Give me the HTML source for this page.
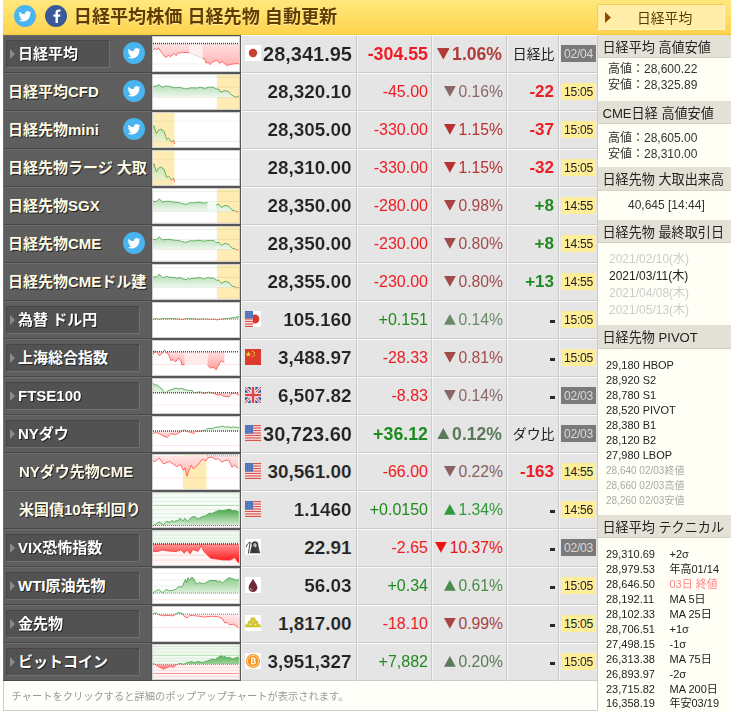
<!DOCTYPE html>
<html lang="ja"><head><meta charset="utf-8"><title>日経平均株価 日経先物 自動更新</title>
<style>
html,body{margin:0;padding:0;background:#fff;}
body{width:733px;height:712px;position:relative;overflow:hidden;font-family:"Liberation Sans","Noto Sans CJK JP",sans-serif;color:#222;}
.abs{position:absolute;display:block;}
#hd{position:absolute;left:3px;top:0;width:728px;height:35px;background:linear-gradient(#ffe87e,#ffdf68 45%,#ffd34e);border-bottom:1px solid #f6c840;height:34px;}
#ttl{position:absolute;left:73.8px;top:5px;height:24px;line-height:24px;font-size:18.1px;font-weight:700;color:#603c00;white-space:nowrap;text-shadow:0 1px 0 rgba(255,240,170,.9);}
#hbtn{position:absolute;left:597px;top:4px;width:126px;height:24px;border:1px solid;border-color:#f0cc5c #fff4c4 #fff4c4 #f0cc5c;background:#ffeda8;font-size:13.8px;line-height:28px;color:#5a3a00;white-space:nowrap;}
#hbtn .t{position:absolute;left:39px;top:0;}
.row{position:absolute;left:3px;width:595px;height:38px;}
.nm{position:absolute;left:0;top:0;width:147px;border-left:1px solid #6e6e6e;height:36px;background:#5e5e5e;border-top:1px solid #6e6e6e;border-bottom:1px solid #484848;}
.nm .btn{position:absolute;left:2px;top:4px;width:132px;height:26px;background:#525252;border:1px solid;border-color:#464646 #707070 #707070 #464646;}
.nm .arr{position:absolute;left:6px;top:13px;width:0;height:0;border-left:5px solid #8a8a8a;border-top:5px solid transparent;border-bottom:5px solid transparent;}
.nm .tx{position:absolute;top:0;height:36px;line-height:36px;font-size:15px;font-weight:700;color:#fffbe6;white-space:nowrap;letter-spacing:0;}
.nm .tx{text-shadow:1px 1px 0 #222;}
.ch{position:absolute;left:148px;top:0;width:90px;height:38px;background:#565656;}
.ch svg{position:absolute;left:1px;top:1px;}
.c{position:absolute;top:0;height:36px;background:#e5e5e5;border:1px solid;border-color:#fafafa #cbcbcb #cbcbcb #f4f4f4;line-height:36px;text-align:right;white-space:nowrap;}
.c1{left:238px;width:114px;font-size:20px;font-weight:700;color:#222;}
.c1 span{position:absolute;right:4px;top:-0.5px;-webkit-text-stroke:0.15px #e5e5e5;}
.c2{left:354px;width:73px;font-size:16px;}
.c2 span{position:absolute;right:3px;top:0;}
.c3{left:429px;width:73px;font-size:16px;}
.c3 span{position:absolute;right:3px;top:0;}
.c4{left:504px;width:50px;font-size:17px;font-weight:700;}
.c4 span{position:absolute;right:4px;top:0;}
.c5{left:556px;width:37px;}
.c5 b{position:absolute;left:1px;top:9px;width:35px;height:17px;line-height:18.2px;font-size:12.1px;letter-spacing:-0.3px;font-weight:400;text-align:center;}
.c5 b.t{background:#ffee99;color:#222;}
.c5 b.d{background:#7a7a7a;color:#d8d8d8;}
.dash{position:absolute;left:41.8px;top:18px;width:5.5px;height:3px;background:#2a2a2a;font-size:0;overflow:hidden;}
.red{color:#ee1c25;}.grn{color:#1f8a1f;}
.b{font-weight:700;}
.tri{display:inline-block;}
#side{position:absolute;left:598px;top:35px;width:133px;height:677px;background:#fffff6;}
.sh{position:absolute;left:0;width:133px;height:22.4px;background:#e3e1d6;border-bottom:1px solid #d4d2c6;font-size:13.1px;line-height:26.6px;color:#222;white-space:nowrap;}
.sh span{position:absolute;left:4.5px;top:0;}
.sl{position:absolute;white-space:nowrap;color:#333;}
#ft{position:absolute;left:3px;top:681px;width:593px;height:29px;background:#fffffa;border:1px solid #ccc;border-top:none;font-size:10.25px;line-height:29px;color:#999;white-space:nowrap;}
#ft span{position:absolute;left:7.5px;top:1px;}
</style></head><body>

<div id="hd"></div>
<svg class="abs" style="left:14px;top:5px" width="22" height="22" viewBox="0 0 22 22"><circle cx="11" cy="11" r="11" fill="#48b4f0"/><path transform="translate(3.6,3.7) scale(0.61)" fill="#fff" d="M22.46 6c-.77.35-1.6.58-2.46.69a4.3 4.3 0 0 0 1.88-2.37 8.6 8.6 0 0 1-2.72 1.04 4.28 4.28 0 0 0-7.3 3.9A12.14 12.14 0 0 1 3.05 4.8a4.28 4.28 0 0 0 1.32 5.71 4.26 4.26 0 0 1-1.94-.54v.05a4.28 4.28 0 0 0 3.43 4.2 4.3 4.3 0 0 1-1.93.07 4.28 4.28 0 0 0 4 2.97A8.59 8.59 0 0 1 2 19.03a12.1 12.1 0 0 0 6.56 1.92c7.88 0 12.2-6.53 12.2-12.2l-.01-.55A8.7 8.7 0 0 0 22.46 6z"/></svg>
<svg class="abs" style="left:45px;top:5px" width="22" height="22" viewBox="0 0 22 22"><circle cx="11" cy="11" r="11" fill="#3b5998"/><path transform="translate(0.9,0)" fill="#fff" d="M12.1 18v-6.2h2.1l.3-2.4h-2.4V7.9c0-.7.2-1.2 1.2-1.2h1.3V4.5c-.2 0-1-.1-1.9-.1-1.9 0-3.1 1.100-3.100 3.200v1.800H7.500v2.400h2.100V18z"/></svg>
<div id="ttl">日経平均株価 日経先物 自動更新</div>
<div id="hbtn"><svg class="abs" style="left:7px;top:7px" width="6" height="11"><polygon points="0,0 6,5.5 0,11" fill="#8a4e00"/></svg><span class="t">日経平均</span></div>
<div class="row" style="top:35px">
<div class="nm"><div class="btn" style="width:102px"></div><div class="arr"></div><div class="tx" style="left:14px;color:#fff">日経平均</div></div>
<div class="ch"><svg width="88" height="36" viewBox="0 0 88 36"><rect width="88" height="36" fill="#fff"/><rect x="1" y="27.5" width="86" height="1" fill="#ffecec" style="mix-blend-mode:multiply"/><defs><linearGradient id="c0g" gradientUnits="userSpaceOnUse" x1="0" y1="11.9" x2="0" y2="7.5"><stop offset="0" stop-color="#9fd49f"/><stop offset="1" stop-color="#e6f4e6"/></linearGradient><linearGradient id="c0r" gradientUnits="userSpaceOnUse" x1="0" y1="7.5" x2="0" y2="29.5"><stop offset="0" stop-color="#ffe2e2"/><stop offset="1" stop-color="#ffb4b4"/></linearGradient><clipPath id="c0a"><rect x="0" y="0" width="88" height="7.5"/></clipPath><clipPath id="c0b"><rect x="0" y="7.5" width="88" height="28.5"/></clipPath></defs><polygon points="37.3,7.5 50.7,7.5 50.7,22.6 37.3,16.7" fill="#fff0f0"/><polyline points="37.3,16.7 50.7,22.6" fill="none" stroke="#ddd" stroke-width="1"/><g clip-path="url(#c0a)"><polygon points="1.0,7.5 1.0,14.4 2.8,12.2 4.6,14.0 6.3,11.9 9.0,15.7 13.4,21.3 16.6,19.4 18.4,20.7 22.2,17.6 24.1,19.7 26.0,16.3 27.2,17.6 29.7,16.3 37.3,16.7 37.3,7.5" fill="url(#c0g)" style="mix-blend-mode:multiply"/></g><g clip-path="url(#c0b)"><polygon points="1.0,7.5 1.0,14.4 2.8,12.2 4.6,14.0 6.3,11.9 9.0,15.7 13.4,21.3 16.6,19.4 18.4,20.7 22.2,17.6 24.1,19.7 26.0,16.3 27.2,17.6 29.7,16.3 37.3,16.7 37.3,7.5" fill="url(#c0r)" style="mix-blend-mode:multiply"/></g><g clip-path="url(#c0a)"><polygon points="50.7,7.5 50.7,22.6 53.0,23.2 54.2,27.2 56.0,26.0 58.0,28.5 60.5,26.0 64.9,24.2 67.4,27.2 69.9,25.5 74.9,29.5 79.3,28.2 84.3,27.6 87.0,27.8 87.0,7.5" fill="url(#c0g)" style="mix-blend-mode:multiply"/></g><g clip-path="url(#c0b)"><polygon points="50.7,7.5 50.7,22.6 53.0,23.2 54.2,27.2 56.0,26.0 58.0,28.5 60.5,26.0 64.9,24.2 67.4,27.2 69.9,25.5 74.9,29.5 79.3,28.2 84.3,27.6 87.0,27.8 87.0,7.5" fill="url(#c0r)" style="mix-blend-mode:multiply"/></g><line x1="1" y1="7.5" x2="87" y2="7.5" stroke="#2233ff" stroke-width="1.6" stroke-dasharray="1 1"/><g clip-path="url(#c0a)"><polyline points="1.0,14.4 2.8,12.2 4.6,14.0 6.3,11.9 9.0,15.7 13.4,21.3 16.6,19.4 18.4,20.7 22.2,17.6 24.1,19.7 26.0,16.3 27.2,17.6 29.7,16.3 37.3,16.7" fill="none" stroke="#4aa04a" stroke-width="0.8" stroke-linejoin="round"/></g><g clip-path="url(#c0b)"><polyline points="1.0,14.4 2.8,12.2 4.6,14.0 6.3,11.9 9.0,15.7 13.4,21.3 16.6,19.4 18.4,20.7 22.2,17.6 24.1,19.7 26.0,16.3 27.2,17.6 29.7,16.3 37.3,16.7" fill="none" stroke="#ff4a4a" stroke-width="0.8" stroke-linejoin="round"/></g><g clip-path="url(#c0a)"><polyline points="50.7,22.6 53.0,23.2 54.2,27.2 56.0,26.0 58.0,28.5 60.5,26.0 64.9,24.2 67.4,27.2 69.9,25.5 74.9,29.5 79.3,28.2 84.3,27.6 87.0,27.8" fill="none" stroke="#4aa04a" stroke-width="0.8" stroke-linejoin="round"/></g><g clip-path="url(#c0b)"><polyline points="50.7,22.6 53.0,23.2 54.2,27.2 56.0,26.0 58.0,28.5 60.5,26.0 64.9,24.2 67.4,27.2 69.9,25.5 74.9,29.5 79.3,28.2 84.3,27.6 87.0,27.8" fill="none" stroke="#ff4a4a" stroke-width="0.8" stroke-linejoin="round"/></g><rect x="0.5" y="0.5" width="87" height="35" fill="none" stroke="#d0d0d0" stroke-width="1"/></svg></div>
<div class="c c1"><span style="font-size:20px;right:4px">28,341.95</span></div>
<div class="c c2"><span class="red b" style="font-size:17.8px">-304.55</span></div>
<div class="c c3"><span class="b" style="color:#b03a3a;font-size:17.6px;right:4px"><svg class="tri" width="12.7" height="11.7" viewBox="0 0 12.7 11.684" style="margin-right:2.9px;vertical-align:0.6px"><polygon points="0,0 12.7,0 6.35,11.684" fill="#b03a3a"/></svg>1.06%</span></div>
<div class="c c4"><span style="font-size:13.9px;font-weight:400;color:#222;right:3.5px">日経比</span></div>
<div class="c c5"><b class="d">02/04</b></div>
</div>
<svg class="abs" style="left:123px;top:42px" width="22" height="22" viewBox="0 0 22 22"><circle cx="11" cy="11" r="11" fill="#48b4f0"/><path transform="translate(3.6,3.7) scale(0.61)" fill="#fff" d="M22.46 6c-.77.35-1.6.58-2.46.69a4.3 4.3 0 0 0 1.88-2.37 8.6 8.6 0 0 1-2.72 1.04 4.28 4.28 0 0 0-7.3 3.9A12.14 12.14 0 0 1 3.05 4.8a4.28 4.28 0 0 0 1.32 5.71 4.26 4.26 0 0 1-1.94-.54v.05a4.28 4.28 0 0 0 3.43 4.2 4.3 4.3 0 0 1-1.93.07 4.28 4.28 0 0 0 4 2.97A8.59 8.59 0 0 1 2 19.03a12.1 12.1 0 0 0 6.56 1.92c7.88 0 12.2-6.53 12.2-12.2l-.01-.55A8.7 8.7 0 0 0 22.46 6z"/></svg>
<svg class="abs" style="left:245px;top:45px" width="16" height="16" viewBox="0 0 16 16"><rect width="16" height="16" fill="#fff"/><circle cx="8" cy="8" r="4.2" fill="#c8402f"/></svg>
<div class="row" style="top:73px">
<div class="nm"><div class="tx" style="left:4px;color:#fffbe6">日経平均CFD</div></div>
<div class="ch"><svg width="88" height="36" viewBox="0 0 88 36"><rect width="88" height="36" fill="#fff"/><rect x="64.9" y="0" width="23.099999999999994" height="36" fill="#ffecb5"/><rect x="1" y="2.6" width="86" height="1" fill="#e6f4e6" style="mix-blend-mode:multiply"/><rect x="1" y="12.7" width="86" height="1" fill="#eaf3e6" style="mix-blend-mode:multiply"/><rect x="1" y="22.8" width="86" height="1" fill="#e6f0e0" style="mix-blend-mode:multiply"/><defs><linearGradient id="c1g" gradientUnits="userSpaceOnUse" x1="0" y1="10.3" x2="0" y2="23.3"><stop offset="0" stop-color="#b4dcb4"/><stop offset="1" stop-color="#eef8ee"/></linearGradient><linearGradient id="c1r" gradientUnits="userSpaceOnUse" x1="0" y1="23.3" x2="0" y2="23.2"><stop offset="0" stop-color="#ffe4e4"/><stop offset="1" stop-color="#ffb0b0"/></linearGradient><clipPath id="c1a"><rect x="0" y="0" width="88" height="23.3"/></clipPath><clipPath id="c1b"><rect x="0" y="23.3" width="88" height="12.7"/></clipPath></defs><g clip-path="url(#c1a)"><polygon points="1.0,23.3 1.0,12.5 5.3,11.9 6.5,10.3 10.3,13.2 14.0,11.9 17.8,12.5 22.8,13.8 27.9,13.5 34.1,15.0 39.0,13.8 45.4,14.0 48.0,13.2 53.0,14.4 56.7,13.2 61.7,13.4 64.2,15.0 66.7,15.0 68.6,18.2 73.0,16.6 76.8,17.8 79.3,21.0 84.3,23.2 87.0,22.0 87.0,23.3" fill="url(#c1g)" style="mix-blend-mode:multiply"/></g><g clip-path="url(#c1b)"><polygon points="1.0,23.3 1.0,12.5 5.3,11.9 6.5,10.3 10.3,13.2 14.0,11.9 17.8,12.5 22.8,13.8 27.9,13.5 34.1,15.0 39.0,13.8 45.4,14.0 48.0,13.2 53.0,14.4 56.7,13.2 61.7,13.4 64.2,15.0 66.7,15.0 68.6,18.2 73.0,16.6 76.8,17.8 79.3,21.0 84.3,23.2 87.0,22.0 87.0,23.3" fill="url(#c1r)" style="mix-blend-mode:multiply"/></g><g clip-path="url(#c1a)"><polyline points="1.0,12.5 5.3,11.9 6.5,10.3 10.3,13.2 14.0,11.9 17.8,12.5 22.8,13.8 27.9,13.5 34.1,15.0 39.0,13.8 45.4,14.0 48.0,13.2 53.0,14.4 56.7,13.2 61.7,13.4 64.2,15.0 66.7,15.0 68.6,18.2 73.0,16.6 76.8,17.8 79.3,21.0 84.3,23.2 87.0,22.0" fill="none" stroke="#4aa04a" stroke-width="0.8" stroke-linejoin="round"/></g><g clip-path="url(#c1b)"><polyline points="1.0,12.5 5.3,11.9 6.5,10.3 10.3,13.2 14.0,11.9 17.8,12.5 22.8,13.8 27.9,13.5 34.1,15.0 39.0,13.8 45.4,14.0 48.0,13.2 53.0,14.4 56.7,13.2 61.7,13.4 64.2,15.0 66.7,15.0 68.6,18.2 73.0,16.6 76.8,17.8 79.3,21.0 84.3,23.2 87.0,22.0" fill="none" stroke="#ff4a4a" stroke-width="0.8" stroke-linejoin="round"/></g><rect x="0.5" y="0.5" width="87" height="35" fill="none" stroke="#d0d0d0" stroke-width="1"/></svg></div>
<div class="c c1"><span style="font-size:18.9px;right:4.5px">28,320.10</span></div>
<div class="c c2"><span class="red">-45.00</span></div>
<div class="c c3"><span class="" style="color:#8a6666;font-size:15.7px"><svg class="tri" width="11.8" height="10.9" viewBox="0 0 11.8 10.856000000000002" style="margin-right:2.9px;vertical-align:0.1px"><polygon points="0,0 11.8,0 5.9,10.856000000000002" fill="#8a6666"/></svg>0.16%</span></div>
<div class="c c4"><span class="red">-22</span></div>
<div class="c c5"><b class="t">15:05</b></div>
</div>
<svg class="abs" style="left:123px;top:80px" width="22" height="22" viewBox="0 0 22 22"><circle cx="11" cy="11" r="11" fill="#48b4f0"/><path transform="translate(3.6,3.7) scale(0.61)" fill="#fff" d="M22.46 6c-.77.35-1.6.58-2.46.69a4.3 4.3 0 0 0 1.88-2.37 8.6 8.6 0 0 1-2.72 1.04 4.28 4.28 0 0 0-7.3 3.9A12.14 12.14 0 0 1 3.05 4.8a4.28 4.28 0 0 0 1.32 5.71 4.26 4.26 0 0 1-1.94-.54v.05a4.28 4.28 0 0 0 3.43 4.2 4.3 4.3 0 0 1-1.93.07 4.28 4.28 0 0 0 4 2.97A8.59 8.59 0 0 1 2 19.03a12.1 12.1 0 0 0 6.56 1.92c7.88 0 12.2-6.53 12.2-12.2l-.01-.55A8.7 8.7 0 0 0 22.46 6z"/></svg>
<div class="row" style="top:111px">
<div class="nm"><div class="tx" style="left:4px;color:#fffbe6">日経先物mini</div></div>
<div class="ch"><svg width="88" height="36" viewBox="0 0 88 36"><rect width="88" height="36" fill="#fff"/><rect x="0" y="0" width="22.5" height="36" fill="#ffecb5"/><rect x="1" y="8.7" width="86" height="1" fill="#edf5ed" style="mix-blend-mode:multiply"/><rect x="1" y="29.0" width="86" height="1" fill="#e8f0e4" style="mix-blend-mode:multiply"/><defs><linearGradient id="c2g" gradientUnits="userSpaceOnUse" x1="0" y1="14.0" x2="0" y2="29.5"><stop offset="0" stop-color="#bfe0b0"/><stop offset="1" stop-color="#ecf2c8"/></linearGradient><linearGradient id="c2r" gradientUnits="userSpaceOnUse" x1="0" y1="29.5" x2="0" y2="32.0"><stop offset="0" stop-color="#ffe4e4"/><stop offset="1" stop-color="#ffb0b0"/></linearGradient><clipPath id="c2a"><rect x="0" y="0" width="88" height="29.5"/></clipPath><clipPath id="c2b"><rect x="0" y="29.5" width="88" height="6.5"/></clipPath></defs><g clip-path="url(#c2a)"><polygon points="1.0,29.5 1.0,14.4 2.1,14.0 4.3,21.7 6.5,18.2 8.8,17.0 12.2,19.4 14.7,27.6 16.6,26.0 19.3,30.1 21.6,28.2 22.8,32.0 22.8,29.5" fill="url(#c2g)" style="mix-blend-mode:multiply"/></g><g clip-path="url(#c2b)"><polygon points="1.0,29.5 1.0,14.4 2.1,14.0 4.3,21.7 6.5,18.2 8.8,17.0 12.2,19.4 14.7,27.6 16.6,26.0 19.3,30.1 21.6,28.2 22.8,32.0 22.8,29.5" fill="url(#c2r)" style="mix-blend-mode:multiply"/></g><g clip-path="url(#c2a)"><polyline points="1.0,14.4 2.1,14.0 4.3,21.7 6.5,18.2 8.8,17.0 12.2,19.4 14.7,27.6 16.6,26.0 19.3,30.1 21.6,28.2 22.8,32.0" fill="none" stroke="#4aa04a" stroke-width="0.8" stroke-linejoin="round"/></g><g clip-path="url(#c2b)"><polyline points="1.0,14.4 2.1,14.0 4.3,21.7 6.5,18.2 8.8,17.0 12.2,19.4 14.7,27.6 16.6,26.0 19.3,30.1 21.6,28.2 22.8,32.0" fill="none" stroke="#ff4a4a" stroke-width="0.8" stroke-linejoin="round"/></g><rect x="0.5" y="0.5" width="87" height="35" fill="none" stroke="#d0d0d0" stroke-width="1"/></svg></div>
<div class="c c1"><span style="font-size:18.9px;right:4.5px">28,305.00</span></div>
<div class="c c2"><span class="red">-330.00</span></div>
<div class="c c3"><span class="" style="color:#b83030;font-size:15.7px"><svg class="tri" width="11.8" height="10.9" viewBox="0 0 11.8 10.856000000000002" style="margin-right:2.9px;vertical-align:0.1px"><polygon points="0,0 11.8,0 5.9,10.856000000000002" fill="#b83030"/></svg>1.15%</span></div>
<div class="c c4"><span class="red">-37</span></div>
<div class="c c5"><b class="t">15:05</b></div>
</div>
<svg class="abs" style="left:123px;top:118px" width="22" height="22" viewBox="0 0 22 22"><circle cx="11" cy="11" r="11" fill="#48b4f0"/><path transform="translate(3.6,3.7) scale(0.61)" fill="#fff" d="M22.46 6c-.77.35-1.6.58-2.46.69a4.3 4.3 0 0 0 1.88-2.37 8.6 8.6 0 0 1-2.72 1.04 4.28 4.28 0 0 0-7.3 3.9A12.14 12.14 0 0 1 3.05 4.8a4.28 4.28 0 0 0 1.32 5.71 4.26 4.26 0 0 1-1.94-.54v.05a4.28 4.28 0 0 0 3.43 4.2 4.3 4.3 0 0 1-1.93.07 4.28 4.28 0 0 0 4 2.97A8.59 8.59 0 0 1 2 19.03a12.1 12.1 0 0 0 6.56 1.92c7.88 0 12.2-6.53 12.2-12.2l-.01-.55A8.7 8.7 0 0 0 22.46 6z"/></svg>
<div class="row" style="top:149px">
<div class="nm"><div class="tx" style="left:4px;color:#fffbe6">日経先物ラージ 大取</div></div>
<div class="ch"><svg width="88" height="36" viewBox="0 0 88 36"><rect width="88" height="36" fill="#fff"/><rect x="0" y="0" width="22.5" height="36" fill="#ffecb5"/><rect x="1" y="8.7" width="86" height="1" fill="#edf5ed" style="mix-blend-mode:multiply"/><rect x="1" y="29.0" width="86" height="1" fill="#e8f0e4" style="mix-blend-mode:multiply"/><defs><linearGradient id="c3g" gradientUnits="userSpaceOnUse" x1="0" y1="14.0" x2="0" y2="29.5"><stop offset="0" stop-color="#bfe0b0"/><stop offset="1" stop-color="#ecf2c8"/></linearGradient><linearGradient id="c3r" gradientUnits="userSpaceOnUse" x1="0" y1="29.5" x2="0" y2="32.0"><stop offset="0" stop-color="#ffe4e4"/><stop offset="1" stop-color="#ffb0b0"/></linearGradient><clipPath id="c3a"><rect x="0" y="0" width="88" height="29.5"/></clipPath><clipPath id="c3b"><rect x="0" y="29.5" width="88" height="6.5"/></clipPath></defs><g clip-path="url(#c3a)"><polygon points="1.0,29.5 1.0,14.4 2.1,14.0 4.3,21.7 6.5,18.2 8.8,17.0 12.2,19.4 14.7,27.6 16.6,26.0 19.3,30.1 21.6,28.2 22.8,32.0 22.8,29.5" fill="url(#c3g)" style="mix-blend-mode:multiply"/></g><g clip-path="url(#c3b)"><polygon points="1.0,29.5 1.0,14.4 2.1,14.0 4.3,21.7 6.5,18.2 8.8,17.0 12.2,19.4 14.7,27.6 16.6,26.0 19.3,30.1 21.6,28.2 22.8,32.0 22.8,29.5" fill="url(#c3r)" style="mix-blend-mode:multiply"/></g><g clip-path="url(#c3a)"><polyline points="1.0,14.4 2.1,14.0 4.3,21.7 6.5,18.2 8.8,17.0 12.2,19.4 14.7,27.6 16.6,26.0 19.3,30.1 21.6,28.2 22.8,32.0" fill="none" stroke="#4aa04a" stroke-width="0.8" stroke-linejoin="round"/></g><g clip-path="url(#c3b)"><polyline points="1.0,14.4 2.1,14.0 4.3,21.7 6.5,18.2 8.8,17.0 12.2,19.4 14.7,27.6 16.6,26.0 19.3,30.1 21.6,28.2 22.8,32.0" fill="none" stroke="#ff4a4a" stroke-width="0.8" stroke-linejoin="round"/></g><rect x="0.5" y="0.5" width="87" height="35" fill="none" stroke="#d0d0d0" stroke-width="1"/></svg></div>
<div class="c c1"><span style="font-size:18.9px;right:4.5px">28,310.00</span></div>
<div class="c c2"><span class="red">-330.00</span></div>
<div class="c c3"><span class="" style="color:#b83030;font-size:15.7px"><svg class="tri" width="11.8" height="10.9" viewBox="0 0 11.8 10.856000000000002" style="margin-right:2.9px;vertical-align:0.1px"><polygon points="0,0 11.8,0 5.9,10.856000000000002" fill="#b83030"/></svg>1.15%</span></div>
<div class="c c4"><span class="red">-32</span></div>
<div class="c c5"><b class="t">15:05</b></div>
</div>
<div class="row" style="top:187px">
<div class="nm"><div class="tx" style="left:4px;color:#fffbe6">日経先物SGX</div></div>
<div class="ch"><svg width="88" height="36" viewBox="0 0 88 36"><rect width="88" height="36" fill="#fff"/><rect x="64.9" y="0" width="23.099999999999994" height="36" fill="#ffecb5"/><rect x="1" y="2.9" width="86" height="1" fill="#e6f4e6" style="mix-blend-mode:multiply"/><rect x="1" y="12.9" width="86" height="1" fill="#eaf3e6" style="mix-blend-mode:multiply"/><rect x="1" y="23.1" width="86" height="1" fill="#e6f0e0" style="mix-blend-mode:multiply"/><rect x="1" y="34.0" width="86" height="1" fill="#fff0f0" style="mix-blend-mode:multiply"/><defs><linearGradient id="c4g" gradientUnits="userSpaceOnUse" x1="0" y1="10.9" x2="0" y2="23.6"><stop offset="0" stop-color="#b4dcb4"/><stop offset="1" stop-color="#eef8ee"/></linearGradient><linearGradient id="c4r" gradientUnits="userSpaceOnUse" x1="0" y1="23.6" x2="0" y2="23.9"><stop offset="0" stop-color="#ffe4e4"/><stop offset="1" stop-color="#ffb0b0"/></linearGradient><clipPath id="c4a"><rect x="0" y="0" width="88" height="23.6"/></clipPath><clipPath id="c4b"><rect x="0" y="23.6" width="88" height="12.399999999999999"/></clipPath></defs><polygon points="55.5,14.4 63.6,14.4 63.6,23.6 55.5,23.6" fill="#f0faf0"/><g clip-path="url(#c4a)"><polygon points="1.0,23.6 1.0,13.4 4.5,13.4 7.2,10.9 10.3,13.8 17.0,13.2 22.0,14.2 27.0,14.5 29.5,15.5 34.1,16.3 38.0,14.7 42.0,14.9 45.0,14.4 48.0,14.3 52.0,15.2 55.5,14.4 55.5,23.6" fill="url(#c4g)" style="mix-blend-mode:multiply"/></g><g clip-path="url(#c4b)"><polygon points="1.0,23.6 1.0,13.4 4.5,13.4 7.2,10.9 10.3,13.8 17.0,13.2 22.0,14.2 27.0,14.5 29.5,15.5 34.1,16.3 38.0,14.7 42.0,14.9 45.0,14.4 48.0,14.3 52.0,15.2 55.5,14.4 55.5,23.6" fill="url(#c4r)" style="mix-blend-mode:multiply"/></g><g clip-path="url(#c4a)"><polygon points="64.2,23.6 64.2,16.7 67.0,16.4 69.5,19.4 73.0,17.3 77.0,18.5 80.0,22.2 83.0,22.6 84.3,23.9 86.5,23.6 86.5,23.6" fill="url(#c4g)" style="mix-blend-mode:multiply"/></g><g clip-path="url(#c4b)"><polygon points="64.2,23.6 64.2,16.7 67.0,16.4 69.5,19.4 73.0,17.3 77.0,18.5 80.0,22.2 83.0,22.6 84.3,23.9 86.5,23.6 86.5,23.6" fill="url(#c4r)" style="mix-blend-mode:multiply"/></g><g clip-path="url(#c4a)"><polyline points="1.0,13.4 4.5,13.4 7.2,10.9 10.3,13.8 17.0,13.2 22.0,14.2 27.0,14.5 29.5,15.5 34.1,16.3 38.0,14.7 42.0,14.9 45.0,14.4 48.0,14.3 52.0,15.2 55.5,14.4" fill="none" stroke="#4aa04a" stroke-width="0.8" stroke-linejoin="round"/></g><g clip-path="url(#c4b)"><polyline points="1.0,13.4 4.5,13.4 7.2,10.9 10.3,13.8 17.0,13.2 22.0,14.2 27.0,14.5 29.5,15.5 34.1,16.3 38.0,14.7 42.0,14.9 45.0,14.4 48.0,14.3 52.0,15.2 55.5,14.4" fill="none" stroke="#ff4a4a" stroke-width="0.8" stroke-linejoin="round"/></g><g clip-path="url(#c4a)"><polyline points="64.2,16.7 67.0,16.4 69.5,19.4 73.0,17.3 77.0,18.5 80.0,22.2 83.0,22.6 84.3,23.9 86.5,23.6" fill="none" stroke="#4aa04a" stroke-width="0.8" stroke-linejoin="round"/></g><g clip-path="url(#c4b)"><polyline points="64.2,16.7 67.0,16.4 69.5,19.4 73.0,17.3 77.0,18.5 80.0,22.2 83.0,22.6 84.3,23.9 86.5,23.6" fill="none" stroke="#ff4a4a" stroke-width="0.8" stroke-linejoin="round"/></g><rect x="0.5" y="0.5" width="87" height="35" fill="none" stroke="#d0d0d0" stroke-width="1"/></svg></div>
<div class="c c1"><span style="font-size:18.9px;right:4.5px">28,350.00</span></div>
<div class="c c2"><span class="red">-280.00</span></div>
<div class="c c3"><span class="" style="color:#a84444;font-size:15.7px"><svg class="tri" width="11.8" height="10.9" viewBox="0 0 11.8 10.856000000000002" style="margin-right:2.9px;vertical-align:0.1px"><polygon points="0,0 11.8,0 5.9,10.856000000000002" fill="#a84444"/></svg>0.98%</span></div>
<div class="c c4"><span class="grn">+8</span></div>
<div class="c c5"><b class="t">14:55</b></div>
</div>
<div class="row" style="top:225px">
<div class="nm"><div class="tx" style="left:4px;color:#fffbe6">日経先物CME</div></div>
<div class="ch"><svg width="88" height="36" viewBox="0 0 88 36"><rect width="88" height="36" fill="#fff"/><rect x="64.9" y="0" width="23.099999999999994" height="36" fill="#ffecb5"/><rect x="1" y="2.9" width="86" height="1" fill="#e6f4e6" style="mix-blend-mode:multiply"/><rect x="1" y="12.9" width="86" height="1" fill="#eaf3e6" style="mix-blend-mode:multiply"/><rect x="1" y="23.1" width="86" height="1" fill="#e6f0e0" style="mix-blend-mode:multiply"/><rect x="1" y="34.0" width="86" height="1" fill="#fff0f0" style="mix-blend-mode:multiply"/><defs><linearGradient id="c5g" gradientUnits="userSpaceOnUse" x1="0" y1="10.9" x2="0" y2="23.6"><stop offset="0" stop-color="#b4dcb4"/><stop offset="1" stop-color="#eef8ee"/></linearGradient><linearGradient id="c5r" gradientUnits="userSpaceOnUse" x1="0" y1="23.6" x2="0" y2="23.9"><stop offset="0" stop-color="#ffe4e4"/><stop offset="1" stop-color="#ffb0b0"/></linearGradient><clipPath id="c5a"><rect x="0" y="0" width="88" height="23.6"/></clipPath><clipPath id="c5b"><rect x="0" y="23.6" width="88" height="12.399999999999999"/></clipPath></defs><g clip-path="url(#c5a)"><polygon points="1.0,23.6 1.0,13.4 4.5,13.4 7.2,10.9 10.3,13.8 17.0,13.2 22.0,14.2 27.0,14.5 29.5,15.5 34.1,16.3 38.0,14.7 42.0,14.9 45.0,14.4 48.0,14.3 52.0,15.2 55.5,14.4 62.0,14.4 64.2,16.7 67.0,16.4 69.5,19.4 73.0,17.3 77.0,18.5 80.0,22.2 83.0,22.6 84.3,23.9 86.5,23.6 86.5,23.6" fill="url(#c5g)" style="mix-blend-mode:multiply"/></g><g clip-path="url(#c5b)"><polygon points="1.0,23.6 1.0,13.4 4.5,13.4 7.2,10.9 10.3,13.8 17.0,13.2 22.0,14.2 27.0,14.5 29.5,15.5 34.1,16.3 38.0,14.7 42.0,14.9 45.0,14.4 48.0,14.3 52.0,15.2 55.5,14.4 62.0,14.4 64.2,16.7 67.0,16.4 69.5,19.4 73.0,17.3 77.0,18.5 80.0,22.2 83.0,22.6 84.3,23.9 86.5,23.6 86.5,23.6" fill="url(#c5r)" style="mix-blend-mode:multiply"/></g><g clip-path="url(#c5a)"><polyline points="1.0,13.4 4.5,13.4 7.2,10.9 10.3,13.8 17.0,13.2 22.0,14.2 27.0,14.5 29.5,15.5 34.1,16.3 38.0,14.7 42.0,14.9 45.0,14.4 48.0,14.3 52.0,15.2 55.5,14.4 62.0,14.4 64.2,16.7 67.0,16.4 69.5,19.4 73.0,17.3 77.0,18.5 80.0,22.2 83.0,22.6 84.3,23.9 86.5,23.6" fill="none" stroke="#4aa04a" stroke-width="0.8" stroke-linejoin="round"/></g><g clip-path="url(#c5b)"><polyline points="1.0,13.4 4.5,13.4 7.2,10.9 10.3,13.8 17.0,13.2 22.0,14.2 27.0,14.5 29.5,15.5 34.1,16.3 38.0,14.7 42.0,14.9 45.0,14.4 48.0,14.3 52.0,15.2 55.5,14.4 62.0,14.4 64.2,16.7 67.0,16.4 69.5,19.4 73.0,17.3 77.0,18.5 80.0,22.2 83.0,22.6 84.3,23.9 86.5,23.6" fill="none" stroke="#ff4a4a" stroke-width="0.8" stroke-linejoin="round"/></g><rect x="0.5" y="0.5" width="87" height="35" fill="none" stroke="#d0d0d0" stroke-width="1"/></svg></div>
<div class="c c1"><span style="font-size:18.9px;right:4.5px">28,350.00</span></div>
<div class="c c2"><span class="red">-230.00</span></div>
<div class="c c3"><span class="" style="color:#a34a4a;font-size:15.7px"><svg class="tri" width="11.8" height="10.9" viewBox="0 0 11.8 10.856000000000002" style="margin-right:2.9px;vertical-align:0.1px"><polygon points="0,0 11.8,0 5.9,10.856000000000002" fill="#a34a4a"/></svg>0.80%</span></div>
<div class="c c4"><span class="grn">+8</span></div>
<div class="c c5"><b class="t">14:55</b></div>
</div>
<svg class="abs" style="left:123px;top:232px" width="22" height="22" viewBox="0 0 22 22"><circle cx="11" cy="11" r="11" fill="#48b4f0"/><path transform="translate(3.6,3.7) scale(0.61)" fill="#fff" d="M22.46 6c-.77.35-1.6.58-2.46.69a4.3 4.3 0 0 0 1.88-2.37 8.6 8.6 0 0 1-2.72 1.04 4.28 4.28 0 0 0-7.3 3.9A12.14 12.14 0 0 1 3.05 4.8a4.28 4.28 0 0 0 1.32 5.71 4.26 4.26 0 0 1-1.94-.54v.05a4.28 4.28 0 0 0 3.43 4.2 4.3 4.3 0 0 1-1.93.07 4.28 4.28 0 0 0 4 2.97A8.59 8.59 0 0 1 2 19.03a12.1 12.1 0 0 0 6.56 1.92c7.88 0 12.2-6.53 12.2-12.2l-.01-.55A8.7 8.7 0 0 0 22.46 6z"/></svg>
<div class="row" style="top:263px">
<div class="nm"><div class="tx" style="left:4px;color:#fffbe6">日経先物CMEドル建</div></div>
<div class="ch"><svg width="88" height="36" viewBox="0 0 88 36"><rect width="88" height="36" fill="#fff"/><rect x="64.9" y="0" width="23.099999999999994" height="36" fill="#ffecb5"/><rect x="1" y="2.9" width="86" height="1" fill="#e6f4e6" style="mix-blend-mode:multiply"/><rect x="1" y="12.9" width="86" height="1" fill="#eaf3e6" style="mix-blend-mode:multiply"/><rect x="1" y="23.1" width="86" height="1" fill="#e6f0e0" style="mix-blend-mode:multiply"/><rect x="1" y="34.0" width="86" height="1" fill="#fff0f0" style="mix-blend-mode:multiply"/><defs><linearGradient id="c6g" gradientUnits="userSpaceOnUse" x1="0" y1="10.3" x2="0" y2="23.6"><stop offset="0" stop-color="#b4dcb4"/><stop offset="1" stop-color="#eef8ee"/></linearGradient><linearGradient id="c6r" gradientUnits="userSpaceOnUse" x1="0" y1="23.6" x2="0" y2="23.9"><stop offset="0" stop-color="#ffe4e4"/><stop offset="1" stop-color="#ffb0b0"/></linearGradient><clipPath id="c6a"><rect x="0" y="0" width="88" height="23.6"/></clipPath><clipPath id="c6b"><rect x="0" y="23.6" width="88" height="12.399999999999999"/></clipPath></defs><g clip-path="url(#c6a)"><polygon points="1.0,23.6 1.0,13.0 4.5,12.8 7.2,10.3 10.3,13.6 13.0,13.2 15.0,12.2 17.0,13.2 22.0,13.5 25.0,14.3 28.0,13.6 31.0,14.8 34.1,15.8 36.0,14.3 38.0,15.2 40.0,14.3 45.0,14.1 48.0,13.5 52.0,15.0 55.5,13.4 58.0,14.0 62.0,14.1 64.2,16.0 67.0,16.4 69.5,19.4 73.0,17.3 77.0,18.5 80.0,22.2 83.0,22.6 84.3,23.9 86.5,23.6 86.5,23.6" fill="url(#c6g)" style="mix-blend-mode:multiply"/></g><g clip-path="url(#c6b)"><polygon points="1.0,23.6 1.0,13.0 4.5,12.8 7.2,10.3 10.3,13.6 13.0,13.2 15.0,12.2 17.0,13.2 22.0,13.5 25.0,14.3 28.0,13.6 31.0,14.8 34.1,15.8 36.0,14.3 38.0,15.2 40.0,14.3 45.0,14.1 48.0,13.5 52.0,15.0 55.5,13.4 58.0,14.0 62.0,14.1 64.2,16.0 67.0,16.4 69.5,19.4 73.0,17.3 77.0,18.5 80.0,22.2 83.0,22.6 84.3,23.9 86.5,23.6 86.5,23.6" fill="url(#c6r)" style="mix-blend-mode:multiply"/></g><g clip-path="url(#c6a)"><polyline points="1.0,13.0 4.5,12.8 7.2,10.3 10.3,13.6 13.0,13.2 15.0,12.2 17.0,13.2 22.0,13.5 25.0,14.3 28.0,13.6 31.0,14.8 34.1,15.8 36.0,14.3 38.0,15.2 40.0,14.3 45.0,14.1 48.0,13.5 52.0,15.0 55.5,13.4 58.0,14.0 62.0,14.1 64.2,16.0 67.0,16.4 69.5,19.4 73.0,17.3 77.0,18.5 80.0,22.2 83.0,22.6 84.3,23.9 86.5,23.6" fill="none" stroke="#4aa04a" stroke-width="0.8" stroke-linejoin="round"/></g><g clip-path="url(#c6b)"><polyline points="1.0,13.0 4.5,12.8 7.2,10.3 10.3,13.6 13.0,13.2 15.0,12.2 17.0,13.2 22.0,13.5 25.0,14.3 28.0,13.6 31.0,14.8 34.1,15.8 36.0,14.3 38.0,15.2 40.0,14.3 45.0,14.1 48.0,13.5 52.0,15.0 55.5,13.4 58.0,14.0 62.0,14.1 64.2,16.0 67.0,16.4 69.5,19.4 73.0,17.3 77.0,18.5 80.0,22.2 83.0,22.6 84.3,23.9 86.5,23.6" fill="none" stroke="#ff4a4a" stroke-width="0.8" stroke-linejoin="round"/></g><rect x="0.5" y="0.5" width="87" height="35" fill="none" stroke="#d0d0d0" stroke-width="1"/></svg></div>
<div class="c c1"><span style="font-size:18.9px;right:4.5px">28,355.00</span></div>
<div class="c c2"><span class="red">-230.00</span></div>
<div class="c c3"><span class="" style="color:#a34a4a;font-size:15.7px"><svg class="tri" width="11.8" height="10.9" viewBox="0 0 11.8 10.856000000000002" style="margin-right:2.9px;vertical-align:0.1px"><polygon points="0,0 11.8,0 5.9,10.856000000000002" fill="#a34a4a"/></svg>0.80%</span></div>
<div class="c c4"><span class="grn">+13</span></div>
<div class="c c5"><b class="t">14:55</b></div>
</div>
<div class="row" style="top:301px">
<div class="nm"><div class="btn"></div><div class="arr"></div><div class="tx" style="left:14px;color:#fff">為替 ドル円</div></div>
<div class="ch"><svg width="88" height="36" viewBox="0 0 88 36"><rect width="88" height="36" fill="#fff"/><defs><linearGradient id="c7g" gradientUnits="userSpaceOnUse" x1="0" y1="14.6" x2="0" y2="17.2"><stop offset="0" stop-color="#9fd49f"/><stop offset="1" stop-color="#e6f4e6"/></linearGradient><linearGradient id="c7r" gradientUnits="userSpaceOnUse" x1="0" y1="17.2" x2="0" y2="17.9"><stop offset="0" stop-color="#ffe4e4"/><stop offset="1" stop-color="#ffb0b0"/></linearGradient><clipPath id="c7a"><rect x="0" y="0" width="88" height="17.2"/></clipPath><clipPath id="c7b"><rect x="0" y="17.2" width="88" height="18.8"/></clipPath></defs><g clip-path="url(#c7a)"><polygon points="1.0,17.2 1.0,17.2 4.0,16.6 6.0,17.0 8.0,17.4 10.0,16.6 16.0,16.7 20.0,16.6 26.0,17.0 31.0,17.6 34.0,16.6 40.0,16.8 46.0,17.1 52.0,17.0 58.0,17.4 62.0,17.2 65.0,17.9 68.0,17.3 72.0,16.8 76.0,16.5 80.0,15.8 83.0,15.5 87.0,14.6 87.0,17.2" fill="url(#c7g)" style="mix-blend-mode:multiply"/></g><g clip-path="url(#c7b)"><polygon points="1.0,17.2 1.0,17.2 4.0,16.6 6.0,17.0 8.0,17.4 10.0,16.6 16.0,16.7 20.0,16.6 26.0,17.0 31.0,17.6 34.0,16.6 40.0,16.8 46.0,17.1 52.0,17.0 58.0,17.4 62.0,17.2 65.0,17.9 68.0,17.3 72.0,16.8 76.0,16.5 80.0,15.8 83.0,15.5 87.0,14.6 87.0,17.2" fill="url(#c7r)" style="mix-blend-mode:multiply"/></g><line x1="1" y1="17.2" x2="87" y2="17.2" stroke="#7a857a" stroke-width="1" stroke-dasharray="1 1"/><g clip-path="url(#c7a)"><polyline points="1.0,17.2 4.0,16.6 6.0,17.0 8.0,17.4 10.0,16.6 16.0,16.7 20.0,16.6 26.0,17.0 31.0,17.6 34.0,16.6 40.0,16.8 46.0,17.1 52.0,17.0 58.0,17.4 62.0,17.2 65.0,17.9 68.0,17.3 72.0,16.8 76.0,16.5 80.0,15.8 83.0,15.5 87.0,14.6" fill="none" stroke="#4aa04a" stroke-width="0.8" stroke-linejoin="round"/></g><g clip-path="url(#c7b)"><polyline points="1.0,17.2 4.0,16.6 6.0,17.0 8.0,17.4 10.0,16.6 16.0,16.7 20.0,16.6 26.0,17.0 31.0,17.6 34.0,16.6 40.0,16.8 46.0,17.1 52.0,17.0 58.0,17.4 62.0,17.2 65.0,17.9 68.0,17.3 72.0,16.8 76.0,16.5 80.0,15.8 83.0,15.5 87.0,14.6" fill="none" stroke="#ff4a4a" stroke-width="0.8" stroke-linejoin="round"/></g><rect x="0.5" y="0.5" width="87" height="35" fill="none" stroke="#d0d0d0" stroke-width="1"/></svg></div>
<div class="c c1"><span style="font-size:18.9px;right:4.5px">105.160</span></div>
<div class="c c2"><span class="grn">+0.151</span></div>
<div class="c c3"><span class="" style="color:#6a8a6a;font-size:15.7px"><svg class="tri" width="11.8" height="10.9" viewBox="0 0 11.8 10.856000000000002" style="margin-right:2.9px;vertical-align:0.1px"><polygon points="0,10.856000000000002 11.8,10.856000000000002 5.9,0" fill="#6a8a6a"/></svg>0.14%</span></div>
<div class="c c4"><i class="dash">-</i></div>
<div class="c c5"><b class="t">15:05</b></div>
</div>
<svg class="abs" style="left:245px;top:311px" width="16" height="16" viewBox="0 0 16 16"><rect width="16" height="16" fill="#fff"/><circle cx="9.800" cy="8" r="4.600" fill="#d8382c"/><rect width="8" height="16" fill="#fbeeee"/><rect y="0.00" width="8" height="1.23" fill="#d8544e"/><rect y="2.46" width="8" height="1.23" fill="#d8544e"/><rect y="4.92" width="8" height="1.23" fill="#d8544e"/><rect y="7.38" width="8" height="1.23" fill="#d8544e"/><rect y="9.84" width="8" height="1.23" fill="#d8544e"/><rect y="12.30" width="8" height="1.23" fill="#d8544e"/><rect y="14.76" width="8" height="1.23" fill="#d8544e"/><rect width="8" height="7.400" fill="#4c74ba"/><path d="M1 1.500h6M1 3.500h6M1 5.500h6" stroke="#7d9bd0" stroke-width=".7" stroke-dasharray="1 1"/></svg>
<div class="row" style="top:339px">
<div class="nm"><div class="btn"></div><div class="arr"></div><div class="tx" style="left:14px;color:#fff">上海総合指数</div></div>
<div class="ch"><svg width="88" height="36" viewBox="0 0 88 36"><rect width="88" height="36" fill="#fff"/><rect x="1" y="24.0" width="86" height="1" fill="#ffe4e4" style="mix-blend-mode:multiply"/><defs><linearGradient id="c8g" gradientUnits="userSpaceOnUse" x1="0" y1="9.7" x2="0" y2="11.7"><stop offset="0" stop-color="#9fd49f"/><stop offset="1" stop-color="#e6f4e6"/></linearGradient><linearGradient id="c8r" gradientUnits="userSpaceOnUse" x1="0" y1="11.7" x2="0" y2="30.0"><stop offset="0" stop-color="#ffe0e0"/><stop offset="1" stop-color="#ff9c9c"/></linearGradient><clipPath id="c8a"><rect x="0" y="0" width="88" height="11.7"/></clipPath><clipPath id="c8b"><rect x="0" y="11.7" width="88" height="24.3"/></clipPath></defs><polygon points="32.6,11.7 55.0,11.7 55.0,24.5 32.6,24.5" fill="#ffeaea"/><g clip-path="url(#c8a)"><polygon points="1.0,11.7 1.0,14.4 2.5,13.0 3.0,10.4 5.0,12.5 7.2,15.4 9.0,14.4 10.0,13.8 12.5,9.7 14.0,12.5 16.6,14.2 19.0,20.7 21.0,19.5 23.5,22.0 26.0,18.2 28.5,20.0 30.1,25.1 32.6,24.2 32.6,11.7" fill="url(#c8g)" style="mix-blend-mode:multiply"/></g><g clip-path="url(#c8b)"><polygon points="1.0,11.7 1.0,14.4 2.5,13.0 3.0,10.4 5.0,12.5 7.2,15.4 9.0,14.4 10.0,13.8 12.5,9.7 14.0,12.5 16.6,14.2 19.0,20.7 21.0,19.5 23.5,22.0 26.0,18.2 28.5,20.0 30.1,25.1 32.6,24.2 32.6,11.7" fill="url(#c8r)" style="mix-blend-mode:multiply"/></g><g clip-path="url(#c8a)"><polygon points="55.5,11.7 55.5,25.1 58.6,28.2 61.0,27.0 64.2,29.7 66.5,25.1 69.3,20.7 72.4,22.6 72.4,11.7" fill="url(#c8g)" style="mix-blend-mode:multiply"/></g><g clip-path="url(#c8b)"><polygon points="55.5,11.7 55.5,25.1 58.6,28.2 61.0,27.0 64.2,29.7 66.5,25.1 69.3,20.7 72.4,22.6 72.4,11.7" fill="url(#c8r)" style="mix-blend-mode:multiply"/></g><line x1="1" y1="11.7" x2="87" y2="11.7" stroke="#2244ee" stroke-width="1.6" stroke-dasharray="1 1"/><g clip-path="url(#c8a)"><polyline points="1.0,14.4 2.5,13.0 3.0,10.4 5.0,12.5 7.2,15.4 9.0,14.4 10.0,13.8 12.5,9.7 14.0,12.5 16.6,14.2 19.0,20.7 21.0,19.5 23.5,22.0 26.0,18.2 28.5,20.0 30.1,25.1 32.6,24.2" fill="none" stroke="#4aa04a" stroke-width="0.8" stroke-linejoin="round"/></g><g clip-path="url(#c8b)"><polyline points="1.0,14.4 2.5,13.0 3.0,10.4 5.0,12.5 7.2,15.4 9.0,14.4 10.0,13.8 12.5,9.7 14.0,12.5 16.6,14.2 19.0,20.7 21.0,19.5 23.5,22.0 26.0,18.2 28.5,20.0 30.1,25.1 32.6,24.2" fill="none" stroke="#ff4a4a" stroke-width="0.8" stroke-linejoin="round"/></g><g clip-path="url(#c8a)"><polyline points="55.5,25.1 58.6,28.2 61.0,27.0 64.2,29.7 66.5,25.1 69.3,20.7 72.4,22.6" fill="none" stroke="#4aa04a" stroke-width="0.8" stroke-linejoin="round"/></g><g clip-path="url(#c8b)"><polyline points="55.5,25.1 58.6,28.2 61.0,27.0 64.2,29.7 66.5,25.1 69.3,20.7 72.4,22.6" fill="none" stroke="#ff4a4a" stroke-width="0.8" stroke-linejoin="round"/></g><rect x="0.5" y="0.5" width="87" height="35" fill="none" stroke="#d0d0d0" stroke-width="1"/></svg></div>
<div class="c c1"><span style="font-size:18.9px;right:4.5px">3,488.97</span></div>
<div class="c c2"><span class="red">-28.33</span></div>
<div class="c c3"><span class="" style="color:#a34a4a;font-size:15.7px"><svg class="tri" width="11.8" height="10.9" viewBox="0 0 11.8 10.856000000000002" style="margin-right:2.9px;vertical-align:0.1px"><polygon points="0,0 11.8,0 5.9,10.856000000000002" fill="#a34a4a"/></svg>0.81%</span></div>
<div class="c c4"><i class="dash">-</i></div>
<div class="c c5"><b class="t">15:05</b></div>
</div>
<svg class="abs" style="left:245px;top:349px" width="16" height="16" viewBox="0 0 16 16"><rect width="16" height="16" fill="#dc3a2c"/><path d="M3.400 2.300l.75 2.100h2.200l-1.800 1.300.7 2.100-1.850-1.300-1.850 1.300.7-2.100L.45 4.400h2.200z" fill="#f8d83a"/><circle cx="7.800" cy="2.200" r=".7" fill="#f8d83a"/><circle cx="9.300" cy="3.800" r=".7" fill="#f8d83a"/><circle cx="9.300" cy="6" r=".7" fill="#f8d83a"/><circle cx="7.800" cy="7.600" r=".7" fill="#f8d83a"/></svg>
<div class="row" style="top:377px">
<div class="nm"><div class="btn"></div><div class="arr"></div><div class="tx" style="left:14px;color:#fff">FTSE100</div></div>
<div class="ch"><svg width="88" height="36" viewBox="0 0 88 36"><rect width="88" height="36" fill="#fff"/><rect x="1" y="2.6" width="86" height="1" fill="#e8f4e8" style="mix-blend-mode:multiply"/><rect x="1" y="26.5" width="86" height="1" fill="#ffe8e8" style="mix-blend-mode:multiply"/><defs><linearGradient id="c9g" gradientUnits="userSpaceOnUse" x1="0" y1="5.3" x2="0" y2="14.8"><stop offset="0" stop-color="#bfe3bf"/><stop offset="1" stop-color="#e4f3e4"/></linearGradient><linearGradient id="c9r" gradientUnits="userSpaceOnUse" x1="0" y1="14.8" x2="0" y2="19.0"><stop offset="0" stop-color="#ffe4e4"/><stop offset="1" stop-color="#ffc0c0"/></linearGradient><clipPath id="c9a"><rect x="0" y="0" width="88" height="14.8"/></clipPath><clipPath id="c9b"><rect x="0" y="14.8" width="88" height="21.2"/></clipPath></defs><g clip-path="url(#c9a)"><polygon points="1.0,14.8 1.0,5.3 3.0,7.0 5.0,6.9 10.3,11.3 12.8,15.0 15.3,13.2 21.0,11.0 24.1,10.0 27.0,11.0 29.1,10.3 35.4,12.3 40.4,12.5 41.7,14.8 48.0,13.8 52.0,15.5 56.7,14.0 63.0,15.7 66.0,17.3 68.0,16.3 71.8,18.2 76.8,19.0 80.5,15.0 84.3,15.7 87.0,17.3 87.0,14.8" fill="url(#c9g)" style="mix-blend-mode:multiply"/></g><g clip-path="url(#c9b)"><polygon points="1.0,14.8 1.0,5.3 3.0,7.0 5.0,6.9 10.3,11.3 12.8,15.0 15.3,13.2 21.0,11.0 24.1,10.0 27.0,11.0 29.1,10.3 35.4,12.3 40.4,12.5 41.7,14.8 48.0,13.8 52.0,15.5 56.7,14.0 63.0,15.7 66.0,17.3 68.0,16.3 71.8,18.2 76.8,19.0 80.5,15.0 84.3,15.7 87.0,17.3 87.0,14.8" fill="url(#c9r)" style="mix-blend-mode:multiply"/></g><line x1="1" y1="14.8" x2="87" y2="14.8" stroke="#2244ee" stroke-width="1.6" stroke-dasharray="1 1"/><g clip-path="url(#c9a)"><polyline points="1.0,5.3 3.0,7.0 5.0,6.9 10.3,11.3 12.8,15.0 15.3,13.2 21.0,11.0 24.1,10.0 27.0,11.0 29.1,10.3 35.4,12.3 40.4,12.5 41.7,14.8 48.0,13.8 52.0,15.5 56.7,14.0 63.0,15.7 66.0,17.3 68.0,16.3 71.8,18.2 76.8,19.0 80.5,15.0 84.3,15.7 87.0,17.3" fill="none" stroke="#4aa04a" stroke-width="0.8" stroke-linejoin="round"/></g><g clip-path="url(#c9b)"><polyline points="1.0,5.3 3.0,7.0 5.0,6.9 10.3,11.3 12.8,15.0 15.3,13.2 21.0,11.0 24.1,10.0 27.0,11.0 29.1,10.3 35.4,12.3 40.4,12.5 41.7,14.8 48.0,13.8 52.0,15.5 56.7,14.0 63.0,15.7 66.0,17.3 68.0,16.3 71.8,18.2 76.8,19.0 80.5,15.0 84.3,15.7 87.0,17.3" fill="none" stroke="#ff4a4a" stroke-width="0.8" stroke-linejoin="round"/></g><rect x="0.5" y="0.5" width="87" height="35" fill="none" stroke="#d0d0d0" stroke-width="1"/></svg></div>
<div class="c c1"><span style="font-size:18.9px;right:4.5px">6,507.82</span></div>
<div class="c c2"><span class="red">-8.83</span></div>
<div class="c c3"><span class="" style="color:#8a6666;font-size:15.7px"><svg class="tri" width="11.8" height="10.9" viewBox="0 0 11.8 10.856000000000002" style="margin-right:2.9px;vertical-align:0.1px"><polygon points="0,0 11.8,0 5.9,10.856000000000002" fill="#8a6666"/></svg>0.14%</span></div>
<div class="c c4"><i class="dash">-</i></div>
<div class="c c5"><b class="d">02/03</b></div>
</div>
<svg class="abs" style="left:245px;top:387px" width="16" height="16" viewBox="0 0 16 16"><rect width="16" height="16" fill="#2f5aa8"/><path d="M0 0L16 16M16 0L0 16" stroke="#fff" stroke-width="3"/><path d="M0 0L16 16M16 0L0 16" stroke="#d8484a" stroke-width="1.100"/><path d="M8 0V16M0 8H16" stroke="#fff" stroke-width="4.600"/><path d="M8 0V16M0 8H16" stroke="#d8484a" stroke-width="2.600"/></svg>
<div class="row" style="top:415px">
<div class="nm"><div class="btn"></div><div class="arr"></div><div class="tx" style="left:14px;color:#fff">NYダウ</div></div>
<div class="ch"><svg width="88" height="36" viewBox="0 0 88 36"><rect width="88" height="36" fill="#fff"/><rect x="1" y="29.0" width="86" height="1" fill="#ffe6e6" style="mix-blend-mode:multiply"/><defs><linearGradient id="c10g" gradientUnits="userSpaceOnUse" x1="0" y1="10.0" x2="0" y2="15"><stop offset="0" stop-color="#d8efd8"/><stop offset="1" stop-color="#eef8ee"/></linearGradient><linearGradient id="c10r" gradientUnits="userSpaceOnUse" x1="0" y1="15" x2="0" y2="21.7"><stop offset="0" stop-color="#ffe6e6"/><stop offset="1" stop-color="#ffbcbc"/></linearGradient><clipPath id="c10a"><rect x="0" y="0" width="88" height="15"/></clipPath><clipPath id="c10b"><rect x="0" y="15" width="88" height="21"/></clipPath></defs><g clip-path="url(#c10a)"><polygon points="1.0,15.0 1.0,17.6 3.5,16.5 6.0,17.0 14.7,21.7 19.0,17.6 22.0,18.5 25.0,18.0 29.0,15.7 32.2,13.8 35.0,15.5 38.0,16.2 41.7,17.6 43.5,15.5 48.0,15.2 53.0,14.4 55.5,12.5 61.0,12.5 63.0,11.3 67.0,11.0 70.5,10.0 74.0,11.3 76.0,10.6 79.0,11.6 81.0,10.8 84.0,11.4 87.0,11.7 87.0,15.0" fill="url(#c10g)" style="mix-blend-mode:multiply"/></g><g clip-path="url(#c10b)"><polygon points="1.0,15.0 1.0,17.6 3.5,16.5 6.0,17.0 14.7,21.7 19.0,17.6 22.0,18.5 25.0,18.0 29.0,15.7 32.2,13.8 35.0,15.5 38.0,16.2 41.7,17.6 43.5,15.5 48.0,15.2 53.0,14.4 55.5,12.5 61.0,12.5 63.0,11.3 67.0,11.0 70.5,10.0 74.0,11.3 76.0,10.6 79.0,11.6 81.0,10.8 84.0,11.4 87.0,11.7 87.0,15.0" fill="url(#c10r)" style="mix-blend-mode:multiply"/></g><line x1="1" y1="15" x2="87" y2="15" stroke="#2244ee" stroke-width="1.6" stroke-dasharray="1 1"/><g clip-path="url(#c10a)"><polyline points="1.0,17.6 3.5,16.5 6.0,17.0 14.7,21.7 19.0,17.6 22.0,18.5 25.0,18.0 29.0,15.7 32.2,13.8 35.0,15.5 38.0,16.2 41.7,17.6 43.5,15.5 48.0,15.2 53.0,14.4 55.5,12.5 61.0,12.5 63.0,11.3 67.0,11.0 70.5,10.0 74.0,11.3 76.0,10.6 79.0,11.6 81.0,10.8 84.0,11.4 87.0,11.7" fill="none" stroke="#4aa04a" stroke-width="0.8" stroke-linejoin="round"/></g><g clip-path="url(#c10b)"><polyline points="1.0,17.6 3.5,16.5 6.0,17.0 14.7,21.7 19.0,17.6 22.0,18.5 25.0,18.0 29.0,15.7 32.2,13.8 35.0,15.5 38.0,16.2 41.7,17.6 43.5,15.5 48.0,15.2 53.0,14.4 55.5,12.5 61.0,12.5 63.0,11.3 67.0,11.0 70.5,10.0 74.0,11.3 76.0,10.6 79.0,11.6 81.0,10.8 84.0,11.4 87.0,11.7" fill="none" stroke="#ff4a4a" stroke-width="0.8" stroke-linejoin="round"/></g><rect x="0.5" y="0.5" width="87" height="35" fill="none" stroke="#d0d0d0" stroke-width="1"/></svg></div>
<div class="c c1"><span style="font-size:20px;right:4px">30,723.60</span></div>
<div class="c c2"><span class="grn b" style="font-size:17.8px">+36.12</span></div>
<div class="c c3"><span class="b" style="color:#5a7a5a;font-size:17.6px;right:4px"><svg class="tri" width="12.7" height="11.7" viewBox="0 0 12.7 11.684" style="margin-right:2.9px;vertical-align:0.6px"><polygon points="0,11.684 12.7,11.684 6.35,0" fill="#5a7a5a"/></svg>0.12%</span></div>
<div class="c c4"><span style="font-size:13.9px;font-weight:400;color:#222;right:3.5px">ダウ比</span></div>
<div class="c c5"><b class="d">02/03</b></div>
</div>
<svg class="abs" style="left:245px;top:425px" width="16" height="16" viewBox="0 0 16 16"><rect width="16" height="16" fill="#fbeeee"/><rect y="0.00" width="16" height="1.23" fill="#d8544e"/><rect y="2.46" width="16" height="1.23" fill="#d8544e"/><rect y="4.92" width="16" height="1.23" fill="#d8544e"/><rect y="7.38" width="16" height="1.23" fill="#d8544e"/><rect y="9.84" width="16" height="1.23" fill="#d8544e"/><rect y="12.30" width="16" height="1.23" fill="#d8544e"/><rect y="14.76" width="16" height="1.23" fill="#d8544e"/><rect width="8" height="8.600" fill="#4c74ba"/><path d="M1 1.500h6M1 3.500h6M1 5.500h6M1 7.500h6" stroke="#7d9bd0" stroke-width=".7" stroke-dasharray="1 1"/></svg>
<div class="row" style="top:453px">
<div class="nm"><div class="tx" style="left:15px;color:#fffbe6">NYダウ先物CME</div></div>
<div class="ch"><svg width="88" height="36" viewBox="0 0 88 36"><rect width="88" height="36" fill="#fff"/><rect x="31" y="0" width="23.5" height="36" fill="#ffecb5"/><rect x="1" y="23.5" width="86" height="1" fill="#ffe6e6" style="mix-blend-mode:multiply"/><defs><linearGradient id="c11g" gradientUnits="userSpaceOnUse" x1="0" y1="3.1" x2="0" y2="1.5"><stop offset="0" stop-color="#9fd49f"/><stop offset="1" stop-color="#e6f4e6"/></linearGradient><linearGradient id="c11r" gradientUnits="userSpaceOnUse" x1="0" y1="1.5" x2="0" y2="20.0"><stop offset="0" stop-color="#ffe6e6"/><stop offset="1" stop-color="#ffb8b8"/></linearGradient><clipPath id="c11a"><rect x="0" y="0" width="88" height="1.5"/></clipPath><clipPath id="c11b"><rect x="0" y="1.5" width="88" height="34.5"/></clipPath></defs><g clip-path="url(#c11a)"><polygon points="1.0,1.5 1.0,6.9 3.0,7.5 7.2,4.0 11.5,10.0 14.0,8.8 17.6,7.5 24.7,12.5 28.5,10.7 31.4,16.3 32.9,13.8 35.1,22.2 36.4,17.6 39.1,11.3 41.7,15.0 46.0,10.7 50.4,5.0 54.2,6.9 55.5,4.0 59.8,3.1 64.2,5.6 66.1,4.4 69.9,8.2 73.0,6.5 76.8,6.0 79.9,13.2 82.4,11.3 86.2,14.4 86.2,1.5" fill="url(#c11g)" style="mix-blend-mode:multiply"/></g><g clip-path="url(#c11b)"><polygon points="1.0,1.5 1.0,6.9 3.0,7.5 7.2,4.0 11.5,10.0 14.0,8.8 17.6,7.5 24.7,12.5 28.5,10.7 31.4,16.3 32.9,13.8 35.1,22.2 36.4,17.6 39.1,11.3 41.7,15.0 46.0,10.7 50.4,5.0 54.2,6.9 55.5,4.0 59.8,3.1 64.2,5.6 66.1,4.4 69.9,8.2 73.0,6.5 76.8,6.0 79.9,13.2 82.4,11.3 86.2,14.4 86.2,1.5" fill="url(#c11r)" style="mix-blend-mode:multiply"/></g><line x1="55" y1="1.6" x2="87" y2="1.6" stroke="#ffa860" stroke-width="1.8" stroke-dasharray="1 1"/><g clip-path="url(#c11a)"><polyline points="1.0,6.9 3.0,7.5 7.2,4.0 11.5,10.0 14.0,8.8 17.6,7.5 24.7,12.5 28.5,10.7 31.4,16.3 32.9,13.8 35.1,22.2 36.4,17.6 39.1,11.3 41.7,15.0 46.0,10.7 50.4,5.0 54.2,6.9 55.5,4.0 59.8,3.1 64.2,5.6 66.1,4.4 69.9,8.2 73.0,6.5 76.8,6.0 79.9,13.2 82.4,11.3 86.2,14.4" fill="none" stroke="#4aa04a" stroke-width="0.8" stroke-linejoin="round"/></g><g clip-path="url(#c11b)"><polyline points="1.0,6.9 3.0,7.5 7.2,4.0 11.5,10.0 14.0,8.8 17.6,7.5 24.7,12.5 28.5,10.7 31.4,16.3 32.9,13.8 35.1,22.2 36.4,17.6 39.1,11.3 41.7,15.0 46.0,10.7 50.4,5.0 54.2,6.9 55.5,4.0 59.8,3.1 64.2,5.6 66.1,4.4 69.9,8.2 73.0,6.5 76.8,6.0 79.9,13.2 82.4,11.3 86.2,14.4" fill="none" stroke="#ff4a4a" stroke-width="0.8" stroke-linejoin="round"/></g><rect x="0.5" y="0.5" width="87" height="35" fill="none" stroke="#d0d0d0" stroke-width="1"/></svg></div>
<div class="c c1"><span style="font-size:18.9px;right:4.5px">30,561.00</span></div>
<div class="c c2"><span class="red">-66.00</span></div>
<div class="c c3"><span class="" style="color:#8a6060;font-size:15.7px"><svg class="tri" width="11.8" height="10.9" viewBox="0 0 11.8 10.856000000000002" style="margin-right:2.9px;vertical-align:0.1px"><polygon points="0,0 11.8,0 5.9,10.856000000000002" fill="#8a6060"/></svg>0.22%</span></div>
<div class="c c4"><span class="red">-163</span></div>
<div class="c c5"><b class="t">14:55</b></div>
</div>
<svg class="abs" style="left:245px;top:463px" width="16" height="16" viewBox="0 0 16 16"><rect width="16" height="16" fill="#fbeeee"/><rect y="0.00" width="16" height="1.23" fill="#d8544e"/><rect y="2.46" width="16" height="1.23" fill="#d8544e"/><rect y="4.92" width="16" height="1.23" fill="#d8544e"/><rect y="7.38" width="16" height="1.23" fill="#d8544e"/><rect y="9.84" width="16" height="1.23" fill="#d8544e"/><rect y="12.30" width="16" height="1.23" fill="#d8544e"/><rect y="14.76" width="16" height="1.23" fill="#d8544e"/><rect width="8" height="8.600" fill="#4c74ba"/><path d="M1 1.500h6M1 3.500h6M1 5.500h6M1 7.500h6" stroke="#7d9bd0" stroke-width=".7" stroke-dasharray="1 1"/></svg>
<div class="row" style="top:491px">
<div class="nm"><div class="tx" style="left:15px;color:#fffbe6">米国債10年利回り</div></div>
<div class="ch"><svg width="88" height="36" viewBox="0 0 88 36"><rect width="88" height="36" fill="#fff"/><rect x="1" y="1" width="86" height="33" fill="#f8fcf8"/><rect x="1" y="1.1" width="86" height="1" fill="#e4f2e4" style="mix-blend-mode:multiply"/><rect x="1" y="4.9" width="86" height="1" fill="#e4f2e4" style="mix-blend-mode:multiply"/><rect x="1" y="8.9" width="86" height="1" fill="#e4f2e4" style="mix-blend-mode:multiply"/><rect x="1" y="12.9" width="86" height="1" fill="#b4dcb4" style="mix-blend-mode:multiply"/><rect x="1" y="17.1" width="86" height="1" fill="#e4f2e4" style="mix-blend-mode:multiply"/><rect x="1" y="21.2" width="86" height="1" fill="#e4f2e4" style="mix-blend-mode:multiply"/><rect x="1" y="25.2" width="86" height="1" fill="#e4f2e4" style="mix-blend-mode:multiply"/><rect x="1" y="29.0" width="86" height="1" fill="#e4f2e4" style="mix-blend-mode:multiply"/><defs><linearGradient id="c12g" gradientUnits="userSpaceOnUse" x1="0" y1="17.2" x2="0" y2="33.6"><stop offset="0" stop-color="#4aa84a"/><stop offset="1" stop-color="#d4ecd4"/></linearGradient><linearGradient id="c12r" gradientUnits="userSpaceOnUse" x1="0" y1="33.6" x2="0" y2="33.6"><stop offset="0" stop-color="#ffe4e4"/><stop offset="1" stop-color="#ffb0b0"/></linearGradient><clipPath id="c12a"><rect x="0" y="0" width="88" height="33.6"/></clipPath><clipPath id="c12b"><rect x="0" y="33.6" width="88" height="2.3999999999999986"/></clipPath></defs><g clip-path="url(#c12a)"><polygon points="1.0,33.6 1.0,33.6 3.0,32.5 7.2,30.1 11.5,32.6 14.7,29.2 17.2,30.5 20.3,28.5 22.8,30.1 24.3,28.0 25.6,29.5 27.9,26.3 31.0,28.9 32.9,26.3 35.4,29.5 37.9,26.7 41.0,24.7 42.9,24.5 46.0,27.0 50.4,24.5 53.6,23.8 57.3,21.3 60.5,21.3 64.2,19.4 67.4,18.2 69.9,18.8 73.0,18.2 78.0,17.2 80.5,18.8 83.0,18.4 86.8,19.7 86.8,33.6" fill="url(#c12g)" style="mix-blend-mode:multiply"/></g><g clip-path="url(#c12b)"><polygon points="1.0,33.6 1.0,33.6 3.0,32.5 7.2,30.1 11.5,32.6 14.7,29.2 17.2,30.5 20.3,28.5 22.8,30.1 24.3,28.0 25.6,29.5 27.9,26.3 31.0,28.9 32.9,26.3 35.4,29.5 37.9,26.7 41.0,24.7 42.9,24.5 46.0,27.0 50.4,24.5 53.6,23.8 57.3,21.3 60.5,21.3 64.2,19.4 67.4,18.2 69.9,18.8 73.0,18.2 78.0,17.2 80.5,18.8 83.0,18.4 86.8,19.7 86.8,33.6" fill="url(#c12r)" style="mix-blend-mode:multiply"/></g><line x1="1" y1="33.6" x2="87" y2="33.6" stroke="#6a756a" stroke-width="1" stroke-dasharray="1 1"/><g clip-path="url(#c12a)"><polyline points="1.0,33.6 3.0,32.5 7.2,30.1 11.5,32.6 14.7,29.2 17.2,30.5 20.3,28.5 22.8,30.1 24.3,28.0 25.6,29.5 27.9,26.3 31.0,28.9 32.9,26.3 35.4,29.5 37.9,26.7 41.0,24.7 42.9,24.5 46.0,27.0 50.4,24.5 53.6,23.8 57.3,21.3 60.5,21.3 64.2,19.4 67.4,18.2 69.9,18.8 73.0,18.2 78.0,17.2 80.5,18.8 83.0,18.4 86.8,19.7" fill="none" stroke="#4aa04a" stroke-width="0.8" stroke-linejoin="round"/></g><g clip-path="url(#c12b)"><polyline points="1.0,33.6 3.0,32.5 7.2,30.1 11.5,32.6 14.7,29.2 17.2,30.5 20.3,28.5 22.8,30.1 24.3,28.0 25.6,29.5 27.9,26.3 31.0,28.9 32.9,26.3 35.4,29.5 37.9,26.7 41.0,24.7 42.9,24.5 46.0,27.0 50.4,24.5 53.6,23.8 57.3,21.3 60.5,21.3 64.2,19.4 67.4,18.2 69.9,18.8 73.0,18.2 78.0,17.2 80.5,18.8 83.0,18.4 86.8,19.7" fill="none" stroke="#ff4a4a" stroke-width="0.8" stroke-linejoin="round"/></g><rect x="0.5" y="0.5" width="87" height="35" fill="none" stroke="#d0d0d0" stroke-width="1"/></svg></div>
<div class="c c1"><span style="font-size:18.9px;right:4.5px">1.1460</span></div>
<div class="c c2"><span class="grn">+0.0150</span></div>
<div class="c c3"><span class="" style="color:#2f9a3a;font-size:15.7px"><svg class="tri" width="11.8" height="10.9" viewBox="0 0 11.8 10.856000000000002" style="margin-right:2.9px;vertical-align:0.1px"><polygon points="0,10.856000000000002 11.8,10.856000000000002 5.9,0" fill="#2f9a3a"/></svg>1.34%</span></div>
<div class="c c4"><i class="dash">-</i></div>
<div class="c c5"><b class="t">14:56</b></div>
</div>
<svg class="abs" style="left:245px;top:501px" width="16" height="16" viewBox="0 0 16 16"><rect width="16" height="16" fill="#fbeeee"/><rect y="0.00" width="16" height="1.23" fill="#d8544e"/><rect y="2.46" width="16" height="1.23" fill="#d8544e"/><rect y="4.92" width="16" height="1.23" fill="#d8544e"/><rect y="7.38" width="16" height="1.23" fill="#d8544e"/><rect y="9.84" width="16" height="1.23" fill="#d8544e"/><rect y="12.30" width="16" height="1.23" fill="#d8544e"/><rect y="14.76" width="16" height="1.23" fill="#d8544e"/><rect width="8" height="8.600" fill="#4c74ba"/><path d="M1 1.500h6M1 3.500h6M1 5.500h6M1 7.500h6" stroke="#7d9bd0" stroke-width=".7" stroke-dasharray="1 1"/></svg>
<div class="row" style="top:529px">
<div class="nm"><div class="btn"></div><div class="arr"></div><div class="tx" style="left:14px;color:#fff">VIX恐怖指数</div></div>
<div class="ch"><svg width="88" height="36" viewBox="0 0 88 36"><rect width="88" height="36" fill="#fff"/><rect x="1" y="1" width="86" height="12" fill="#f6fbf6"/><rect x="1" y="14" width="86" height="21" fill="#fff6f6"/><rect x="1" y="1.4" width="86" height="1" fill="#e0f0e0" style="mix-blend-mode:multiply"/><rect x="1" y="4.5" width="86" height="1" fill="#e0f0e0" style="mix-blend-mode:multiply"/><rect x="1" y="7.7" width="86" height="1" fill="#e0f0e0" style="mix-blend-mode:multiply"/><rect x="1" y="10.2" width="86" height="1" fill="#e0f0e0" style="mix-blend-mode:multiply"/><rect x="1" y="24.6" width="86" height="1" fill="#ffe0e0" style="mix-blend-mode:multiply"/><rect x="1" y="29.6" width="86" height="1" fill="#ffe0e0" style="mix-blend-mode:multiply"/><defs><linearGradient id="c13g" gradientUnits="userSpaceOnUse" x1="0" y1="15.7" x2="0" y2="13.8"><stop offset="0" stop-color="#9fd49f"/><stop offset="1" stop-color="#e6f4e6"/></linearGradient><linearGradient id="c13r" gradientUnits="userSpaceOnUse" x1="0" y1="13.8" x2="0" y2="30.0"><stop offset="0" stop-color="#ff9696"/><stop offset="1" stop-color="#ff2222"/></linearGradient><clipPath id="c13a"><rect x="0" y="0" width="88" height="13.8"/></clipPath><clipPath id="c13b"><rect x="0" y="13.8" width="88" height="22.2"/></clipPath></defs><g clip-path="url(#c13a)"><polygon points="1.0,13.8 1.0,21.3 5.3,21.6 10.3,20.0 16.6,21.0 24.1,21.6 29.1,19.8 32.2,23.2 34.8,20.0 38.1,23.8 41.0,19.4 46.0,21.3 49.2,15.7 51.7,21.3 55.5,25.1 58.6,28.2 64.2,28.9 70.5,29.9 78.0,30.1 83.0,27.6 85.6,32.0 87.5,33.0 87.5,13.8" fill="url(#c13g)" style="mix-blend-mode:multiply"/></g><g clip-path="url(#c13b)"><polygon points="1.0,13.8 1.0,21.3 5.3,21.6 10.3,20.0 16.6,21.0 24.1,21.6 29.1,19.8 32.2,23.2 34.8,20.0 38.1,23.8 41.0,19.4 46.0,21.3 49.2,15.7 51.7,21.3 55.5,25.1 58.6,28.2 64.2,28.9 70.5,29.9 78.0,30.1 83.0,27.6 85.6,32.0 87.5,33.0 87.5,13.8" fill="url(#c13r)" style="mix-blend-mode:multiply"/></g><line x1="1" y1="13.8" x2="87" y2="13.8" stroke="#3355ee" stroke-width="2.2" stroke-dasharray="1 1"/><g clip-path="url(#c13a)"><polyline points="1.0,21.3 5.3,21.6 10.3,20.0 16.6,21.0 24.1,21.6 29.1,19.8 32.2,23.2 34.8,20.0 38.1,23.8 41.0,19.4 46.0,21.3 49.2,15.7 51.7,21.3 55.5,25.1 58.6,28.2 64.2,28.9 70.5,29.9 78.0,30.1 83.0,27.6 85.6,32.0 87.5,33.0" fill="none" stroke="#4aa04a" stroke-width="0.8" stroke-linejoin="round"/></g><g clip-path="url(#c13b)"><polyline points="1.0,21.3 5.3,21.6 10.3,20.0 16.6,21.0 24.1,21.6 29.1,19.8 32.2,23.2 34.8,20.0 38.1,23.8 41.0,19.4 46.0,21.3 49.2,15.7 51.7,21.3 55.5,25.1 58.6,28.2 64.2,28.9 70.5,29.9 78.0,30.1 83.0,27.6 85.6,32.0 87.5,33.0" fill="none" stroke="#ff3030" stroke-width="0.8" stroke-linejoin="round"/></g><rect x="0.5" y="0.5" width="87" height="35" fill="none" stroke="#d0d0d0" stroke-width="1"/></svg></div>
<div class="c c1"><span style="font-size:18.9px;right:4.5px">22.91</span></div>
<div class="c c2"><span class="red">-2.65</span></div>
<div class="c c3"><span class="" style="color:#ee1111;font-size:15.7px"><svg class="tri" width="11.8" height="10.9" viewBox="0 0 11.8 10.856000000000002" style="margin-right:2.9px;vertical-align:0.1px"><polygon points="0,0 11.8,0 5.9,10.856000000000002" fill="#ee1111"/></svg>10.37%</span></div>
<div class="c c4"><i class="dash">-</i></div>
<div class="c c5"><b class="d">02/03</b></div>
</div>
<svg class="abs" style="left:245px;top:539px" width="16" height="16" viewBox="0 0 16 16"><rect width="16" height="16" fill="#fff"/><path d="M10 2.200c-2.200 0-3.300 1.700-3.300 3.600 0 1.600-.8 4.400-2 8.400h10.600C14.100 10.200 13.300 7.400 13.300 5.800c0-1.900-1.100-3.600-3.300-3.600z" fill="#3a3a3a"/><ellipse cx="10" cy="6.200" rx="1.600" ry="1.900" fill="#e8e8e8"/><path d="M8.800 6h2.400" stroke="#555" stroke-width=".6"/><path d="M3.300 14.500L5.200 3.200C3.400 3.600 1.600 5.600 1.200 8.200" stroke="#444" stroke-width="1" fill="none"/><path d="M5.200 3.200L14 13" stroke="#555" stroke-width=".8"/></svg>
<div class="row" style="top:567px">
<div class="nm"><div class="btn"></div><div class="arr"></div><div class="tx" style="left:14px;color:#fff">WTI原油先物</div></div>
<div class="ch"><svg width="88" height="36" viewBox="0 0 88 36"><rect width="88" height="36" fill="#fff"/><rect x="1" y="4.9" width="86" height="1" fill="#e6f4e6" style="mix-blend-mode:multiply"/><rect x="1" y="11.4" width="86" height="1" fill="#e6f4e6" style="mix-blend-mode:multiply"/><rect x="1" y="17.7" width="86" height="1" fill="#e6f4e6" style="mix-blend-mode:multiply"/><rect x="1" y="31.2" width="86" height="1" fill="#ffe6e6" style="mix-blend-mode:multiply"/><defs><linearGradient id="c14g" gradientUnits="userSpaceOnUse" x1="0" y1="9.2" x2="0" y2="25.1"><stop offset="0" stop-color="#86c886"/><stop offset="1" stop-color="#e0f2e0"/></linearGradient><linearGradient id="c14r" gradientUnits="userSpaceOnUse" x1="0" y1="25.1" x2="0" y2="24.7"><stop offset="0" stop-color="#ffe4e4"/><stop offset="1" stop-color="#ffb0b0"/></linearGradient><clipPath id="c14a"><rect x="0" y="0" width="88" height="25.1"/></clipPath><clipPath id="c14b"><rect x="0" y="25.1" width="88" height="10.899999999999999"/></clipPath></defs><g clip-path="url(#c14a)"><polygon points="1.0,25.1 1.0,24.7 6.5,21.3 10.9,24.7 14.0,21.3 16.6,22.6 20.3,22.6 24.1,21.0 27.2,18.2 29.7,19.4 33.5,11.3 34.4,15.0 36.0,9.7 37.3,12.5 39.8,9.2 41.7,10.7 44.8,16.3 46.7,14.4 51.7,15.7 58.0,12.5 64.2,12.5 66.5,13.8 68.0,12.9 70.5,14.8 76.8,9.7 80.5,10.7 84.9,12.2 86.8,11.3 86.8,25.1" fill="url(#c14g)" style="mix-blend-mode:multiply"/></g><g clip-path="url(#c14b)"><polygon points="1.0,25.1 1.0,24.7 6.5,21.3 10.9,24.7 14.0,21.3 16.6,22.6 20.3,22.6 24.1,21.0 27.2,18.2 29.7,19.4 33.5,11.3 34.4,15.0 36.0,9.7 37.3,12.5 39.8,9.2 41.7,10.7 44.8,16.3 46.7,14.4 51.7,15.7 58.0,12.5 64.2,12.5 66.5,13.8 68.0,12.9 70.5,14.8 76.8,9.7 80.5,10.7 84.9,12.2 86.8,11.3 86.8,25.1" fill="url(#c14r)" style="mix-blend-mode:multiply"/></g><line x1="1" y1="25.1" x2="87" y2="25.1" stroke="#7a857a" stroke-width="1" stroke-dasharray="1 1"/><g clip-path="url(#c14a)"><polyline points="1.0,24.7 6.5,21.3 10.9,24.7 14.0,21.3 16.6,22.6 20.3,22.6 24.1,21.0 27.2,18.2 29.7,19.4 33.5,11.3 34.4,15.0 36.0,9.7 37.3,12.5 39.8,9.2 41.7,10.7 44.8,16.3 46.7,14.4 51.7,15.7 58.0,12.5 64.2,12.5 66.5,13.8 68.0,12.9 70.5,14.8 76.8,9.7 80.5,10.7 84.9,12.2 86.8,11.3" fill="none" stroke="#4aa04a" stroke-width="0.8" stroke-linejoin="round"/></g><g clip-path="url(#c14b)"><polyline points="1.0,24.7 6.5,21.3 10.9,24.7 14.0,21.3 16.6,22.6 20.3,22.6 24.1,21.0 27.2,18.2 29.7,19.4 33.5,11.3 34.4,15.0 36.0,9.7 37.3,12.5 39.8,9.2 41.7,10.7 44.8,16.3 46.7,14.4 51.7,15.7 58.0,12.5 64.2,12.5 66.5,13.8 68.0,12.9 70.5,14.8 76.8,9.7 80.5,10.7 84.9,12.2 86.8,11.3" fill="none" stroke="#ff4a4a" stroke-width="0.8" stroke-linejoin="round"/></g><rect x="0.5" y="0.5" width="87" height="35" fill="none" stroke="#d0d0d0" stroke-width="1"/></svg></div>
<div class="c c1"><span style="font-size:18.9px;right:4.5px">56.03</span></div>
<div class="c c2"><span class="grn">+0.34</span></div>
<div class="c c3"><span class="" style="color:#4a8a4a;font-size:15.7px"><svg class="tri" width="11.8" height="10.9" viewBox="0 0 11.8 10.856000000000002" style="margin-right:2.9px;vertical-align:0.1px"><polygon points="0,10.856000000000002 11.8,10.856000000000002 5.9,0" fill="#4a8a4a"/></svg>0.61%</span></div>
<div class="c c4"><i class="dash">-</i></div>
<div class="c c5"><b class="t">15:05</b></div>
</div>
<svg class="abs" style="left:245px;top:577px" width="16" height="16" viewBox="0 0 16 16"><rect width="16" height="16" fill="#fff"/><path d="M8 1.800C6.600 5 3.600 7.600 3.600 10.600a4.400 4.400 0 0 0 8.800 0C12.400 7.600 9.400 5 8 1.800z" fill="#6e2c38"/><path d="M5.400 10.800a2.700 2.700 0 0 0 2 2.500" stroke="#e8d0d4" stroke-width=".8" fill="none"/></svg>
<div class="row" style="top:605px">
<div class="nm"><div class="btn"></div><div class="arr"></div><div class="tx" style="left:14px;color:#fff">金先物</div></div>
<div class="ch"><svg width="88" height="36" viewBox="0 0 88 36"><rect width="88" height="36" fill="#fff"/><rect x="1" y="20.8" width="86" height="1" fill="#ffdede" style="mix-blend-mode:multiply"/><defs><linearGradient id="c15g" gradientUnits="userSpaceOnUse" x1="0" y1="6.5" x2="0" y2="8.2"><stop offset="0" stop-color="#9fd49f"/><stop offset="1" stop-color="#e6f4e6"/></linearGradient><linearGradient id="c15r" gradientUnits="userSpaceOnUse" x1="0" y1="8.2" x2="0" y2="22.0"><stop offset="0" stop-color="#ffeaea"/><stop offset="1" stop-color="#ffc4c4"/></linearGradient><clipPath id="c15a"><rect x="0" y="0" width="88" height="8.2"/></clipPath><clipPath id="c15b"><rect x="0" y="8.2" width="88" height="27.8"/></clipPath></defs><g clip-path="url(#c15a)"><polygon points="1.0,8.2 1.0,7.5 4.6,6.9 5.9,8.5 10.3,9.8 14.0,9.4 21.0,9.8 26.3,6.5 30.6,7.5 31.9,10.0 35.1,11.9 37.9,9.4 45.4,10.0 51.7,11.0 60.5,10.3 66.1,10.7 70.3,12.5 72.8,16.9 74.9,16.3 77.4,18.8 81.2,18.2 84.3,20.0 86.6,22.0 86.6,8.2" fill="url(#c15g)" style="mix-blend-mode:multiply"/></g><g clip-path="url(#c15b)"><polygon points="1.0,8.2 1.0,7.5 4.6,6.9 5.9,8.5 10.3,9.8 14.0,9.4 21.0,9.8 26.3,6.5 30.6,7.5 31.9,10.0 35.1,11.9 37.9,9.4 45.4,10.0 51.7,11.0 60.5,10.3 66.1,10.7 70.3,12.5 72.8,16.9 74.9,16.3 77.4,18.8 81.2,18.2 84.3,20.0 86.6,22.0 86.6,8.2" fill="url(#c15r)" style="mix-blend-mode:multiply"/></g><line x1="1" y1="8.2" x2="87" y2="8.2" stroke="#7a857a" stroke-width="1" stroke-dasharray="1 1"/><g clip-path="url(#c15a)"><polyline points="1.0,7.5 4.6,6.9 5.9,8.5 10.3,9.8 14.0,9.4 21.0,9.8 26.3,6.5 30.6,7.5 31.9,10.0 35.1,11.9 37.9,9.4 45.4,10.0 51.7,11.0 60.5,10.3 66.1,10.7 70.3,12.5 72.8,16.9 74.9,16.3 77.4,18.8 81.2,18.2 84.3,20.0 86.6,22.0" fill="none" stroke="#4aa04a" stroke-width="0.8" stroke-linejoin="round"/></g><g clip-path="url(#c15b)"><polyline points="1.0,7.5 4.6,6.9 5.9,8.5 10.3,9.8 14.0,9.4 21.0,9.8 26.3,6.5 30.6,7.5 31.9,10.0 35.1,11.9 37.9,9.4 45.4,10.0 51.7,11.0 60.5,10.3 66.1,10.7 70.3,12.5 72.8,16.9 74.9,16.3 77.4,18.8 81.2,18.2 84.3,20.0 86.6,22.0" fill="none" stroke="#ff4a4a" stroke-width="0.8" stroke-linejoin="round"/></g><rect x="0.5" y="0.5" width="87" height="35" fill="none" stroke="#d0d0d0" stroke-width="1"/></svg></div>
<div class="c c1"><span style="font-size:18.9px;right:4.5px">1,817.00</span></div>
<div class="c c2"><span class="red">-18.10</span></div>
<div class="c c3"><span class="" style="color:#a84444;font-size:15.7px"><svg class="tri" width="11.8" height="10.9" viewBox="0 0 11.8 10.856000000000002" style="margin-right:2.9px;vertical-align:0.1px"><polygon points="0,0 11.8,0 5.9,10.856000000000002" fill="#a84444"/></svg>0.99%</span></div>
<div class="c c4"><i class="dash">-</i></div>
<div class="c c5"><b class="t">15:05</b></div>
</div>
<svg class="abs" style="left:245px;top:615px" width="16" height="16" viewBox="0 0 16 16"><rect width="16" height="16" fill="#fff"/><path d="M6.300 2.800h3.400l.9 2.600H5.400zM3.700 6h3.400l.9 2.600H2.800zM8.900 6h3.400l.9 2.600H8zM1.200 9.200h3.400l.9 2.800H.3zM6.300 9.200h3.400l.9 2.800H5.400zM11.400 9.200h3.400l.9 2.800h-5.200z" fill="#d9c81e" stroke="#b8a812" stroke-width=".4"/></svg>
<div class="row" style="top:643px">
<div class="nm"><div class="btn"></div><div class="arr"></div><div class="tx" style="left:14px;color:#fff">ビットコイン</div></div>
<div class="ch"><svg width="88" height="36" viewBox="0 0 88 36"><rect width="88" height="36" fill="#fff"/><rect x="1" y="1" width="86" height="19" fill="#f4faf4"/><rect x="1" y="20.5" width="86" height="14.5" fill="#fff4f4"/><rect x="1" y="2.0" width="86" height="1" fill="#d4ecd4" style="mix-blend-mode:multiply"/><rect x="1" y="4.5" width="86" height="1" fill="#e2f2e2" style="mix-blend-mode:multiply"/><rect x="1" y="7.7" width="86" height="1" fill="#e2f2e2" style="mix-blend-mode:multiply"/><rect x="1" y="10.8" width="86" height="1" fill="#bfe3bf" style="mix-blend-mode:multiply"/><rect x="1" y="13.9" width="86" height="1" fill="#e2f2e2" style="mix-blend-mode:multiply"/><rect x="1" y="16.5" width="86" height="1" fill="#e2f2e2" style="mix-blend-mode:multiply"/><rect x="1" y="22.7" width="86" height="1" fill="#ffe4e4" style="mix-blend-mode:multiply"/><rect x="1" y="25.8" width="86" height="1" fill="#ffe4e4" style="mix-blend-mode:multiply"/><rect x="1" y="29.0" width="86" height="1" fill="#ff9c9c" style="mix-blend-mode:multiply"/><rect x="1" y="32.1" width="86" height="1" fill="#ffe4e4" style="mix-blend-mode:multiply"/><defs><linearGradient id="c16g" gradientUnits="userSpaceOnUse" x1="0" y1="11.9" x2="0" y2="20.3"><stop offset="0" stop-color="#5cb25c"/><stop offset="1" stop-color="#9fd49f"/></linearGradient><linearGradient id="c16r" gradientUnits="userSpaceOnUse" x1="0" y1="20.3" x2="0" y2="25.0"><stop offset="0" stop-color="#ffb0b0"/><stop offset="1" stop-color="#ff7070"/></linearGradient><clipPath id="c16a"><rect x="0" y="0" width="88" height="20.3"/></clipPath><clipPath id="c16b"><rect x="0" y="20.3" width="88" height="15.7"/></clipPath></defs><g clip-path="url(#c16a)"><polygon points="1.0,20.3 1.0,19.4 2.8,20.3 7.2,22.8 11.3,25.1 15.3,23.6 18.4,22.0 21.0,23.2 24.7,20.7 27.9,19.4 31.6,20.3 35.4,18.6 39.1,17.8 42.9,18.6 46.0,17.6 50.4,18.6 55.5,16.9 60.5,15.0 63.0,15.7 67.4,12.5 69.9,11.9 71.8,13.2 73.0,12.3 74.9,14.0 76.8,13.2 80.5,15.0 85.6,13.2 87.5,14.5 87.5,20.3" fill="url(#c16g)" style="mix-blend-mode:multiply"/></g><g clip-path="url(#c16b)"><polygon points="1.0,20.3 1.0,19.4 2.8,20.3 7.2,22.8 11.3,25.1 15.3,23.6 18.4,22.0 21.0,23.2 24.7,20.7 27.9,19.4 31.6,20.3 35.4,18.6 39.1,17.8 42.9,18.6 46.0,17.6 50.4,18.6 55.5,16.9 60.5,15.0 63.0,15.7 67.4,12.5 69.9,11.9 71.8,13.2 73.0,12.3 74.9,14.0 76.8,13.2 80.5,15.0 85.6,13.2 87.5,14.5 87.5,20.3" fill="url(#c16r)" style="mix-blend-mode:multiply"/></g><line x1="1" y1="20.3" x2="87" y2="20.3" stroke="#7a857a" stroke-width="1" stroke-dasharray="1 1"/><g clip-path="url(#c16a)"><polyline points="1.0,19.4 2.8,20.3 7.2,22.8 11.3,25.1 15.3,23.6 18.4,22.0 21.0,23.2 24.7,20.7 27.9,19.4 31.6,20.3 35.4,18.6 39.1,17.8 42.9,18.6 46.0,17.6 50.4,18.6 55.5,16.9 60.5,15.0 63.0,15.7 67.4,12.5 69.9,11.9 71.8,13.2 73.0,12.3 74.9,14.0 76.8,13.2 80.5,15.0 85.6,13.2 87.5,14.5" fill="none" stroke="#4aa04a" stroke-width="0.8" stroke-linejoin="round"/></g><g clip-path="url(#c16b)"><polyline points="1.0,19.4 2.8,20.3 7.2,22.8 11.3,25.1 15.3,23.6 18.4,22.0 21.0,23.2 24.7,20.7 27.9,19.4 31.6,20.3 35.4,18.6 39.1,17.8 42.9,18.6 46.0,17.6 50.4,18.6 55.5,16.9 60.5,15.0 63.0,15.7 67.4,12.5 69.9,11.9 71.8,13.2 73.0,12.3 74.9,14.0 76.8,13.2 80.5,15.0 85.6,13.2 87.5,14.5" fill="none" stroke="#ff4a4a" stroke-width="0.8" stroke-linejoin="round"/></g><rect x="0.5" y="0.5" width="87" height="35" fill="none" stroke="#d0d0d0" stroke-width="1"/></svg></div>
<div class="c c1"><span style="font-size:18.9px;right:4.5px">3,951,327</span></div>
<div class="c c2"><span class="grn">+7,882</span></div>
<div class="c c3"><span class="" style="color:#5a7a5a;font-size:15.7px"><svg class="tri" width="11.8" height="10.9" viewBox="0 0 11.8 10.856000000000002" style="margin-right:2.9px;vertical-align:0.1px"><polygon points="0,10.856000000000002 11.8,10.856000000000002 5.9,0" fill="#5a7a5a"/></svg>0.20%</span></div>
<div class="c c4"><i class="dash">-</i></div>
<div class="c c5"><b class="t">15:05</b></div>
</div>
<svg class="abs" style="left:245px;top:653px" width="16" height="16" viewBox="0 0 16 16"><rect width="16" height="16" fill="#fff"/><circle cx="8" cy="8" r="7" fill="#f7931a"/><circle cx="8" cy="8" r="5.600" fill="none" stroke="#fde6c8" stroke-width=".8"/><path d="M6 4.800h2.600c1.300 0 2 .6 2 1.500 0 .7-.4 1.200-1 1.400.8.200 1.300.8 1.300 1.600 0 1.100-.8 1.800-2.200 1.800H6zM7.300 5.800v1.600h1.100c.6 0 .9-.3.900-.8s-.3-.8-.9-.8zM7.300 8.300v1.800h1.300c.7 0 1-.35 1-.9s-.35-.9-1-.9z" fill="#fff" fill-rule="evenodd"/><path d="M7.400 3.900v1M8.600 3.900v1M7.400 11v1M8.600 11v1" stroke="#fff" stroke-width=".6"/></svg>
<div id="side">
<div class="sh" style="top:0.10000000000000142px"><span>日経平均 高値安値</span></div>
<div class="sl" style="left:10px;top:26.0px;font-size:12px;line-height:16px;color:#333">高値：28,600.22</div>
<div class="sl" style="left:10px;top:42.0px;font-size:12px;line-height:16px;color:#333">安値：28,325.89</div>
<div class="sh" style="top:66.1px"><span>CME日経 高値安値</span></div>
<div class="sl" style="left:10px;top:95.0px;font-size:12px;line-height:16px;color:#333">高値：28,605.00</div>
<div class="sl" style="left:10px;top:110.5px;font-size:12px;line-height:16px;color:#333">安値：28,310.00</div>
<div class="sh" style="top:132.2px"><span>日経先物 大取出来高</span></div>
<div class="sl" style="left:30px;top:162.0px;font-size:12px;line-height:16px;color:#333">40,645 [14:44]</div>
<div class="sh" style="top:185.1px"><span>日経先物 最終取引日</span></div>
<div class="sl" style="left:11px;top:216.0px;font-size:12px;line-height:16px;color:#ccc">2021/02/10(水)</div>
<div class="sl" style="left:11px;top:233.0px;font-size:12px;line-height:16px;color:#222">2021/03/11(木)</div>
<div class="sl" style="left:11px;top:250.0px;font-size:12px;line-height:16px;color:#ccc">2021/04/08(木)</div>
<div class="sl" style="left:11px;top:267.0px;font-size:12px;line-height:16px;color:#ccc">2021/05/13(木)</div>
<div class="sh" style="top:290.3px"><span>日経先物 PIVOT</span></div>
<div class="sl" style="left:8px;top:322.7px;font-size:11px;line-height:15px;color:#222">29,180 HBOP</div>
<div class="sl" style="left:8px;top:337.7px;font-size:11px;line-height:15px;color:#222">28,920 S2</div>
<div class="sl" style="left:8px;top:352.7px;font-size:11px;line-height:15px;color:#222">28,780 S1</div>
<div class="sl" style="left:8px;top:367.7px;font-size:11px;line-height:15px;color:#222">28,520 PIVOT</div>
<div class="sl" style="left:8px;top:382.7px;font-size:11px;line-height:15px;color:#222">28,380 B1</div>
<div class="sl" style="left:8px;top:397.7px;font-size:11px;line-height:15px;color:#222">28,120 B2</div>
<div class="sl" style="left:8px;top:412.7px;font-size:11px;line-height:15px;color:#222">27,980 LBOP</div>
<div class="sl" style="left:8px;top:427.9px;font-size:10px;line-height:15px;color:#aaa">28,640 02/03終値</div>
<div class="sl" style="left:8px;top:442.9px;font-size:10px;line-height:15px;color:#aaa">28,660 02/03高値</div>
<div class="sl" style="left:8px;top:457.9px;font-size:10px;line-height:15px;color:#aaa">28,260 02/03安値</div>
<div class="sh" style="top:479.5px"><span>日経平均 テクニカル</span></div>
<div class="sl" style="left:8px;top:512.1px;font-size:11px;line-height:15px;color:#222">29,310.69</div>
<div class="sl" style="left:71.5px;top:512.1px;font-size:11px;line-height:15px;color:#222">+2σ</div>
<div class="sl" style="left:8px;top:527.0px;font-size:11px;line-height:15px;color:#222">28,979.53</div>
<div class="sl" style="left:71.5px;top:527.0px;font-size:11px;line-height:15px;color:#222">年高01/14</div>
<div class="sl" style="left:8px;top:542.0px;font-size:11px;line-height:15px;color:#222">28,646.50</div>
<div class="sl" style="left:71.5px;top:542.0px;font-size:11px;line-height:15px;color:#f88">03日 終値</div>
<div class="sl" style="left:8px;top:556.9px;font-size:11px;line-height:15px;color:#222">28,192.11</div>
<div class="sl" style="left:71.5px;top:556.9px;font-size:11px;line-height:15px;color:#222">MA 5日</div>
<div class="sl" style="left:8px;top:571.8px;font-size:11px;line-height:15px;color:#222">28,102.33</div>
<div class="sl" style="left:71.5px;top:571.8px;font-size:11px;line-height:15px;color:#222">MA 25日</div>
<div class="sl" style="left:8px;top:586.8px;font-size:11px;line-height:15px;color:#222">28,706.51</div>
<div class="sl" style="left:71.5px;top:586.8px;font-size:11px;line-height:15px;color:#222">+1σ</div>
<div class="sl" style="left:8px;top:601.7px;font-size:11px;line-height:15px;color:#222">27,498.15</div>
<div class="sl" style="left:71.5px;top:601.7px;font-size:11px;line-height:15px;color:#222">-1σ</div>
<div class="sl" style="left:8px;top:616.6px;font-size:11px;line-height:15px;color:#222">26,313.38</div>
<div class="sl" style="left:71.5px;top:616.6px;font-size:11px;line-height:15px;color:#222">MA 75日</div>
<div class="sl" style="left:8px;top:631.5px;font-size:11px;line-height:15px;color:#222">26,893.97</div>
<div class="sl" style="left:71.5px;top:631.5px;font-size:11px;line-height:15px;color:#222">-2σ</div>
<div class="sl" style="left:8px;top:646.5px;font-size:11px;line-height:15px;color:#222">23,715.82</div>
<div class="sl" style="left:71.5px;top:646.5px;font-size:11px;line-height:15px;color:#222">MA 200日</div>
<div class="sl" style="left:8px;top:661.4px;font-size:11px;line-height:15px;color:#222">16,358.19</div>
<div class="sl" style="left:71.5px;top:661.4px;font-size:11px;line-height:15px;color:#222">年安03/19</div>
</div>
<div id="ft"><span>チャートをクリックすると詳細のポップアップチャートが表示されます。</span></div>
</body></html>
